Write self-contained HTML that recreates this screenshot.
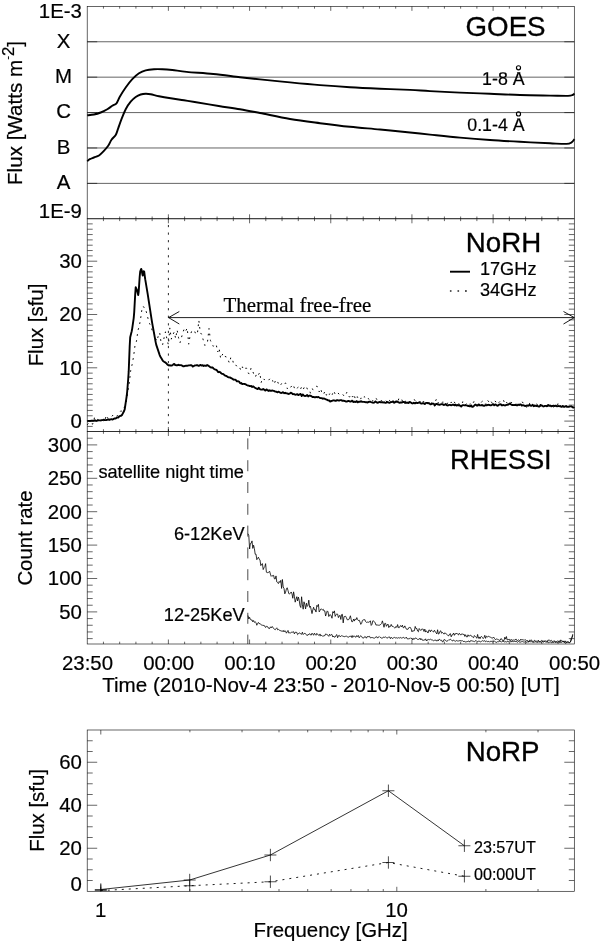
<!DOCTYPE html>
<html><head><meta charset="utf-8"><title>Flare light curves</title>
<style>
html,body{margin:0;padding:0;background:#fff}
svg{display:block}
text{font-family:"Liberation Sans", Arial, Helvetica, sans-serif;fill:#000;stroke:#000;stroke-width:0.2px}
</style></head>
<body>
<svg width="600" height="944" viewBox="0 0 600 944">
<rect x="0" y="0" width="600" height="944" fill="#fff"/>
<line x1="87.20" y1="41.76" x2="574.30" y2="41.76" stroke="#222" stroke-width="0.7"/>
<line x1="87.20" y1="77.17" x2="574.30" y2="77.17" stroke="#222" stroke-width="0.7"/>
<line x1="87.20" y1="112.58" x2="574.30" y2="112.58" stroke="#222" stroke-width="0.7"/>
<line x1="87.20" y1="147.98" x2="574.30" y2="147.98" stroke="#222" stroke-width="0.7"/>
<line x1="87.20" y1="183.39" x2="574.30" y2="183.39" stroke="#222" stroke-width="0.7"/>
<line x1="87.20" y1="41.76" x2="97.20" y2="41.76" stroke="#111" stroke-width="0.64" fill="none"/>
<line x1="564.30" y1="41.76" x2="574.30" y2="41.76" stroke="#111" stroke-width="0.64" fill="none"/>
<line x1="87.20" y1="77.17" x2="97.20" y2="77.17" stroke="#111" stroke-width="0.64" fill="none"/>
<line x1="564.30" y1="77.17" x2="574.30" y2="77.17" stroke="#111" stroke-width="0.64" fill="none"/>
<line x1="87.20" y1="112.58" x2="97.20" y2="112.58" stroke="#111" stroke-width="0.64" fill="none"/>
<line x1="564.30" y1="112.58" x2="574.30" y2="112.58" stroke="#111" stroke-width="0.64" fill="none"/>
<line x1="87.20" y1="147.98" x2="97.20" y2="147.98" stroke="#111" stroke-width="0.64" fill="none"/>
<line x1="564.30" y1="147.98" x2="574.30" y2="147.98" stroke="#111" stroke-width="0.64" fill="none"/>
<line x1="87.20" y1="183.39" x2="97.20" y2="183.39" stroke="#111" stroke-width="0.64" fill="none"/>
<line x1="564.30" y1="183.39" x2="574.30" y2="183.39" stroke="#111" stroke-width="0.64" fill="none"/>
<line x1="103.44" y1="6.35" x2="103.44" y2="8.65" stroke="#111" stroke-width="0.64" fill="none"/>
<line x1="119.67" y1="6.35" x2="119.67" y2="8.65" stroke="#111" stroke-width="0.64" fill="none"/>
<line x1="135.91" y1="6.35" x2="135.91" y2="8.65" stroke="#111" stroke-width="0.64" fill="none"/>
<line x1="152.15" y1="6.35" x2="152.15" y2="8.65" stroke="#111" stroke-width="0.64" fill="none"/>
<line x1="168.38" y1="6.35" x2="168.38" y2="10.85" stroke="#111" stroke-width="0.64" fill="none"/>
<line x1="184.62" y1="6.35" x2="184.62" y2="8.65" stroke="#111" stroke-width="0.64" fill="none"/>
<line x1="200.86" y1="6.35" x2="200.86" y2="8.65" stroke="#111" stroke-width="0.64" fill="none"/>
<line x1="217.09" y1="6.35" x2="217.09" y2="8.65" stroke="#111" stroke-width="0.64" fill="none"/>
<line x1="233.33" y1="6.35" x2="233.33" y2="8.65" stroke="#111" stroke-width="0.64" fill="none"/>
<line x1="249.57" y1="6.35" x2="249.57" y2="10.85" stroke="#111" stroke-width="0.64" fill="none"/>
<line x1="265.80" y1="6.35" x2="265.80" y2="8.65" stroke="#111" stroke-width="0.64" fill="none"/>
<line x1="282.04" y1="6.35" x2="282.04" y2="8.65" stroke="#111" stroke-width="0.64" fill="none"/>
<line x1="298.28" y1="6.35" x2="298.28" y2="8.65" stroke="#111" stroke-width="0.64" fill="none"/>
<line x1="314.51" y1="6.35" x2="314.51" y2="8.65" stroke="#111" stroke-width="0.64" fill="none"/>
<line x1="330.75" y1="6.35" x2="330.75" y2="10.85" stroke="#111" stroke-width="0.64" fill="none"/>
<line x1="346.99" y1="6.35" x2="346.99" y2="8.65" stroke="#111" stroke-width="0.64" fill="none"/>
<line x1="363.22" y1="6.35" x2="363.22" y2="8.65" stroke="#111" stroke-width="0.64" fill="none"/>
<line x1="379.46" y1="6.35" x2="379.46" y2="8.65" stroke="#111" stroke-width="0.64" fill="none"/>
<line x1="395.70" y1="6.35" x2="395.70" y2="8.65" stroke="#111" stroke-width="0.64" fill="none"/>
<line x1="411.93" y1="6.35" x2="411.93" y2="10.85" stroke="#111" stroke-width="0.64" fill="none"/>
<line x1="428.17" y1="6.35" x2="428.17" y2="8.65" stroke="#111" stroke-width="0.64" fill="none"/>
<line x1="444.41" y1="6.35" x2="444.41" y2="8.65" stroke="#111" stroke-width="0.64" fill="none"/>
<line x1="460.64" y1="6.35" x2="460.64" y2="8.65" stroke="#111" stroke-width="0.64" fill="none"/>
<line x1="476.88" y1="6.35" x2="476.88" y2="8.65" stroke="#111" stroke-width="0.64" fill="none"/>
<line x1="493.12" y1="6.35" x2="493.12" y2="10.85" stroke="#111" stroke-width="0.64" fill="none"/>
<line x1="509.35" y1="6.35" x2="509.35" y2="8.65" stroke="#111" stroke-width="0.64" fill="none"/>
<line x1="525.59" y1="6.35" x2="525.59" y2="8.65" stroke="#111" stroke-width="0.64" fill="none"/>
<line x1="541.83" y1="6.35" x2="541.83" y2="8.65" stroke="#111" stroke-width="0.64" fill="none"/>
<line x1="558.06" y1="6.35" x2="558.06" y2="8.65" stroke="#111" stroke-width="0.64" fill="none"/>
<line x1="103.44" y1="216.50" x2="103.44" y2="221.10" stroke="#111" stroke-width="0.64" fill="none"/>
<line x1="119.67" y1="216.50" x2="119.67" y2="221.10" stroke="#111" stroke-width="0.64" fill="none"/>
<line x1="135.91" y1="216.50" x2="135.91" y2="221.10" stroke="#111" stroke-width="0.64" fill="none"/>
<line x1="152.15" y1="216.50" x2="152.15" y2="221.10" stroke="#111" stroke-width="0.64" fill="none"/>
<line x1="168.38" y1="214.30" x2="168.38" y2="223.30" stroke="#111" stroke-width="0.64" fill="none"/>
<line x1="184.62" y1="216.50" x2="184.62" y2="221.10" stroke="#111" stroke-width="0.64" fill="none"/>
<line x1="200.86" y1="216.50" x2="200.86" y2="221.10" stroke="#111" stroke-width="0.64" fill="none"/>
<line x1="217.09" y1="216.50" x2="217.09" y2="221.10" stroke="#111" stroke-width="0.64" fill="none"/>
<line x1="233.33" y1="216.50" x2="233.33" y2="221.10" stroke="#111" stroke-width="0.64" fill="none"/>
<line x1="249.57" y1="214.30" x2="249.57" y2="223.30" stroke="#111" stroke-width="0.64" fill="none"/>
<line x1="265.80" y1="216.50" x2="265.80" y2="221.10" stroke="#111" stroke-width="0.64" fill="none"/>
<line x1="282.04" y1="216.50" x2="282.04" y2="221.10" stroke="#111" stroke-width="0.64" fill="none"/>
<line x1="298.28" y1="216.50" x2="298.28" y2="221.10" stroke="#111" stroke-width="0.64" fill="none"/>
<line x1="314.51" y1="216.50" x2="314.51" y2="221.10" stroke="#111" stroke-width="0.64" fill="none"/>
<line x1="330.75" y1="214.30" x2="330.75" y2="223.30" stroke="#111" stroke-width="0.64" fill="none"/>
<line x1="346.99" y1="216.50" x2="346.99" y2="221.10" stroke="#111" stroke-width="0.64" fill="none"/>
<line x1="363.22" y1="216.50" x2="363.22" y2="221.10" stroke="#111" stroke-width="0.64" fill="none"/>
<line x1="379.46" y1="216.50" x2="379.46" y2="221.10" stroke="#111" stroke-width="0.64" fill="none"/>
<line x1="395.70" y1="216.50" x2="395.70" y2="221.10" stroke="#111" stroke-width="0.64" fill="none"/>
<line x1="411.93" y1="214.30" x2="411.93" y2="223.30" stroke="#111" stroke-width="0.64" fill="none"/>
<line x1="428.17" y1="216.50" x2="428.17" y2="221.10" stroke="#111" stroke-width="0.64" fill="none"/>
<line x1="444.41" y1="216.50" x2="444.41" y2="221.10" stroke="#111" stroke-width="0.64" fill="none"/>
<line x1="460.64" y1="216.50" x2="460.64" y2="221.10" stroke="#111" stroke-width="0.64" fill="none"/>
<line x1="476.88" y1="216.50" x2="476.88" y2="221.10" stroke="#111" stroke-width="0.64" fill="none"/>
<line x1="493.12" y1="214.30" x2="493.12" y2="223.30" stroke="#111" stroke-width="0.64" fill="none"/>
<line x1="509.35" y1="216.50" x2="509.35" y2="221.10" stroke="#111" stroke-width="0.64" fill="none"/>
<line x1="525.59" y1="216.50" x2="525.59" y2="221.10" stroke="#111" stroke-width="0.64" fill="none"/>
<line x1="541.83" y1="216.50" x2="541.83" y2="221.10" stroke="#111" stroke-width="0.64" fill="none"/>
<line x1="558.06" y1="216.50" x2="558.06" y2="221.10" stroke="#111" stroke-width="0.64" fill="none"/>
<line x1="103.44" y1="429.20" x2="103.44" y2="433.80" stroke="#111" stroke-width="0.64" fill="none"/>
<line x1="119.67" y1="429.20" x2="119.67" y2="433.80" stroke="#111" stroke-width="0.64" fill="none"/>
<line x1="135.91" y1="429.20" x2="135.91" y2="433.80" stroke="#111" stroke-width="0.64" fill="none"/>
<line x1="152.15" y1="429.20" x2="152.15" y2="433.80" stroke="#111" stroke-width="0.64" fill="none"/>
<line x1="168.38" y1="427.00" x2="168.38" y2="436.00" stroke="#111" stroke-width="0.64" fill="none"/>
<line x1="184.62" y1="429.20" x2="184.62" y2="433.80" stroke="#111" stroke-width="0.64" fill="none"/>
<line x1="200.86" y1="429.20" x2="200.86" y2="433.80" stroke="#111" stroke-width="0.64" fill="none"/>
<line x1="217.09" y1="429.20" x2="217.09" y2="433.80" stroke="#111" stroke-width="0.64" fill="none"/>
<line x1="233.33" y1="429.20" x2="233.33" y2="433.80" stroke="#111" stroke-width="0.64" fill="none"/>
<line x1="249.57" y1="427.00" x2="249.57" y2="436.00" stroke="#111" stroke-width="0.64" fill="none"/>
<line x1="265.80" y1="429.20" x2="265.80" y2="433.80" stroke="#111" stroke-width="0.64" fill="none"/>
<line x1="282.04" y1="429.20" x2="282.04" y2="433.80" stroke="#111" stroke-width="0.64" fill="none"/>
<line x1="298.28" y1="429.20" x2="298.28" y2="433.80" stroke="#111" stroke-width="0.64" fill="none"/>
<line x1="314.51" y1="429.20" x2="314.51" y2="433.80" stroke="#111" stroke-width="0.64" fill="none"/>
<line x1="330.75" y1="427.00" x2="330.75" y2="436.00" stroke="#111" stroke-width="0.64" fill="none"/>
<line x1="346.99" y1="429.20" x2="346.99" y2="433.80" stroke="#111" stroke-width="0.64" fill="none"/>
<line x1="363.22" y1="429.20" x2="363.22" y2="433.80" stroke="#111" stroke-width="0.64" fill="none"/>
<line x1="379.46" y1="429.20" x2="379.46" y2="433.80" stroke="#111" stroke-width="0.64" fill="none"/>
<line x1="395.70" y1="429.20" x2="395.70" y2="433.80" stroke="#111" stroke-width="0.64" fill="none"/>
<line x1="411.93" y1="427.00" x2="411.93" y2="436.00" stroke="#111" stroke-width="0.64" fill="none"/>
<line x1="428.17" y1="429.20" x2="428.17" y2="433.80" stroke="#111" stroke-width="0.64" fill="none"/>
<line x1="444.41" y1="429.20" x2="444.41" y2="433.80" stroke="#111" stroke-width="0.64" fill="none"/>
<line x1="460.64" y1="429.20" x2="460.64" y2="433.80" stroke="#111" stroke-width="0.64" fill="none"/>
<line x1="476.88" y1="429.20" x2="476.88" y2="433.80" stroke="#111" stroke-width="0.64" fill="none"/>
<line x1="493.12" y1="427.00" x2="493.12" y2="436.00" stroke="#111" stroke-width="0.64" fill="none"/>
<line x1="509.35" y1="429.20" x2="509.35" y2="433.80" stroke="#111" stroke-width="0.64" fill="none"/>
<line x1="525.59" y1="429.20" x2="525.59" y2="433.80" stroke="#111" stroke-width="0.64" fill="none"/>
<line x1="541.83" y1="429.20" x2="541.83" y2="433.80" stroke="#111" stroke-width="0.64" fill="none"/>
<line x1="558.06" y1="429.20" x2="558.06" y2="433.80" stroke="#111" stroke-width="0.64" fill="none"/>
<line x1="103.44" y1="641.70" x2="103.44" y2="644.00" stroke="#111" stroke-width="0.64" fill="none"/>
<line x1="119.67" y1="641.70" x2="119.67" y2="644.00" stroke="#111" stroke-width="0.64" fill="none"/>
<line x1="135.91" y1="641.70" x2="135.91" y2="644.00" stroke="#111" stroke-width="0.64" fill="none"/>
<line x1="152.15" y1="641.70" x2="152.15" y2="644.00" stroke="#111" stroke-width="0.64" fill="none"/>
<line x1="168.38" y1="639.50" x2="168.38" y2="644.00" stroke="#111" stroke-width="0.64" fill="none"/>
<line x1="184.62" y1="641.70" x2="184.62" y2="644.00" stroke="#111" stroke-width="0.64" fill="none"/>
<line x1="200.86" y1="641.70" x2="200.86" y2="644.00" stroke="#111" stroke-width="0.64" fill="none"/>
<line x1="217.09" y1="641.70" x2="217.09" y2="644.00" stroke="#111" stroke-width="0.64" fill="none"/>
<line x1="233.33" y1="641.70" x2="233.33" y2="644.00" stroke="#111" stroke-width="0.64" fill="none"/>
<line x1="249.57" y1="639.50" x2="249.57" y2="644.00" stroke="#111" stroke-width="0.64" fill="none"/>
<line x1="265.80" y1="641.70" x2="265.80" y2="644.00" stroke="#111" stroke-width="0.64" fill="none"/>
<line x1="282.04" y1="641.70" x2="282.04" y2="644.00" stroke="#111" stroke-width="0.64" fill="none"/>
<line x1="298.28" y1="641.70" x2="298.28" y2="644.00" stroke="#111" stroke-width="0.64" fill="none"/>
<line x1="314.51" y1="641.70" x2="314.51" y2="644.00" stroke="#111" stroke-width="0.64" fill="none"/>
<line x1="330.75" y1="639.50" x2="330.75" y2="644.00" stroke="#111" stroke-width="0.64" fill="none"/>
<line x1="346.99" y1="641.70" x2="346.99" y2="644.00" stroke="#111" stroke-width="0.64" fill="none"/>
<line x1="363.22" y1="641.70" x2="363.22" y2="644.00" stroke="#111" stroke-width="0.64" fill="none"/>
<line x1="379.46" y1="641.70" x2="379.46" y2="644.00" stroke="#111" stroke-width="0.64" fill="none"/>
<line x1="395.70" y1="641.70" x2="395.70" y2="644.00" stroke="#111" stroke-width="0.64" fill="none"/>
<line x1="411.93" y1="639.50" x2="411.93" y2="644.00" stroke="#111" stroke-width="0.64" fill="none"/>
<line x1="428.17" y1="641.70" x2="428.17" y2="644.00" stroke="#111" stroke-width="0.64" fill="none"/>
<line x1="444.41" y1="641.70" x2="444.41" y2="644.00" stroke="#111" stroke-width="0.64" fill="none"/>
<line x1="460.64" y1="641.70" x2="460.64" y2="644.00" stroke="#111" stroke-width="0.64" fill="none"/>
<line x1="476.88" y1="641.70" x2="476.88" y2="644.00" stroke="#111" stroke-width="0.64" fill="none"/>
<line x1="493.12" y1="639.50" x2="493.12" y2="644.00" stroke="#111" stroke-width="0.64" fill="none"/>
<line x1="509.35" y1="641.70" x2="509.35" y2="644.00" stroke="#111" stroke-width="0.64" fill="none"/>
<line x1="525.59" y1="641.70" x2="525.59" y2="644.00" stroke="#111" stroke-width="0.64" fill="none"/>
<line x1="541.83" y1="641.70" x2="541.83" y2="644.00" stroke="#111" stroke-width="0.64" fill="none"/>
<line x1="558.06" y1="641.70" x2="558.06" y2="644.00" stroke="#111" stroke-width="0.64" fill="none"/>
<path d="M87.20 115.30 C88.33 115.17 91.75 114.97 94.00 114.50 C96.25 114.03 98.48 113.38 100.70 112.50 C102.92 111.62 105.37 110.32 107.30 109.20 C109.23 108.08 110.77 106.78 112.30 105.80 C113.83 104.82 115.25 104.82 116.50 103.30 C117.75 101.78 118.27 99.33 119.80 96.70 C121.33 94.07 123.62 90.42 125.70 87.50 C127.78 84.58 130.08 81.57 132.30 79.20 C134.52 76.83 136.77 74.78 139.00 73.30 C141.23 71.82 143.20 70.98 145.70 70.30 C148.20 69.62 151.23 69.38 154.00 69.20 C156.77 69.02 159.25 69.07 162.30 69.20 C165.35 69.33 168.23 69.55 172.30 70.00 C176.37 70.45 179.87 71.23 186.70 71.90 C193.53 72.57 204.42 73.12 213.30 74.00 C222.18 74.88 232.22 76.30 240.00 77.20 C247.78 78.10 251.67 78.53 260.00 79.40 C268.33 80.27 280.00 81.45 290.00 82.40 C300.00 83.35 310.00 84.30 320.00 85.10 C330.00 85.90 340.00 86.60 350.00 87.20 C360.00 87.80 370.00 88.25 380.00 88.70 C390.00 89.15 401.67 89.50 410.00 89.90 C418.33 90.30 421.67 90.65 430.00 91.10 C438.33 91.55 450.00 92.15 460.00 92.60 C470.00 93.05 480.00 93.40 490.00 93.80 C500.00 94.20 510.00 94.70 520.00 95.00 C530.00 95.30 542.00 95.45 550.00 95.60 C558.00 95.75 564.25 96.00 568.00 95.90 C571.75 95.80 571.42 95.40 572.50 95.00 C573.58 94.60 574.17 93.75 574.50 93.50" stroke="#000" stroke-width="1.9" fill="none" stroke-linejoin="round"/>
<path d="M87.20 161.30 C87.63 160.95 88.67 159.83 89.80 159.20 C90.93 158.57 92.47 158.12 94.00 157.50 C95.53 156.88 97.47 156.47 99.00 155.50 C100.53 154.53 101.67 153.32 103.20 151.70 C104.73 150.08 106.82 147.80 108.20 145.80 C109.58 143.80 110.25 141.50 111.50 139.70 C112.75 137.90 114.58 136.90 115.70 135.00 C116.82 133.10 117.23 130.93 118.20 128.30 C119.17 125.67 120.25 122.38 121.50 119.20 C122.75 116.02 124.17 112.12 125.70 109.20 C127.23 106.28 129.03 103.73 130.70 101.70 C132.37 99.67 134.03 98.20 135.70 97.00 C137.37 95.80 139.03 95.05 140.70 94.50 C142.37 93.95 144.03 93.75 145.70 93.70 C147.37 93.65 148.48 93.78 150.70 94.20 C152.92 94.62 155.67 95.52 159.00 96.20 C162.33 96.88 166.53 97.62 170.70 98.30 C174.87 98.98 180.00 99.68 184.00 100.30 C188.00 100.92 188.92 101.05 194.70 102.00 C200.48 102.95 211.15 104.80 218.70 106.00 C226.25 107.20 233.12 108.03 240.00 109.20 C246.88 110.37 251.67 111.37 260.00 113.00 C268.33 114.63 280.00 117.30 290.00 119.00 C300.00 120.70 310.00 121.90 320.00 123.20 C330.00 124.50 340.00 125.75 350.00 126.80 C360.00 127.85 370.00 128.55 380.00 129.50 C390.00 130.45 401.67 131.65 410.00 132.50 C418.33 133.35 421.67 133.75 430.00 134.60 C438.33 135.45 450.00 136.70 460.00 137.60 C470.00 138.50 480.00 139.30 490.00 140.00 C500.00 140.70 510.00 141.25 520.00 141.80 C530.00 142.35 542.25 142.95 550.00 143.30 C557.75 143.65 562.90 144.05 566.50 143.90 C570.10 143.75 570.27 143.20 571.60 142.40 C572.93 141.60 574.02 139.65 574.50 139.10" stroke="#000" stroke-width="1.9" fill="none" stroke-linejoin="round"/>
<line x1="87.20" y1="426.43" x2="92.70" y2="426.43" stroke="#111" stroke-width="0.64" fill="none"/>
<line x1="568.80" y1="426.43" x2="574.30" y2="426.43" stroke="#111" stroke-width="0.64" fill="none"/>
<line x1="87.20" y1="421.10" x2="97.20" y2="421.10" stroke="#111" stroke-width="0.64" fill="none"/>
<line x1="564.30" y1="421.10" x2="574.30" y2="421.10" stroke="#111" stroke-width="0.64" fill="none"/>
<line x1="87.20" y1="415.77" x2="92.70" y2="415.77" stroke="#111" stroke-width="0.64" fill="none"/>
<line x1="568.80" y1="415.77" x2="574.30" y2="415.77" stroke="#111" stroke-width="0.64" fill="none"/>
<line x1="87.20" y1="410.44" x2="92.70" y2="410.44" stroke="#111" stroke-width="0.64" fill="none"/>
<line x1="568.80" y1="410.44" x2="574.30" y2="410.44" stroke="#111" stroke-width="0.64" fill="none"/>
<line x1="87.20" y1="405.11" x2="92.70" y2="405.11" stroke="#111" stroke-width="0.64" fill="none"/>
<line x1="568.80" y1="405.11" x2="574.30" y2="405.11" stroke="#111" stroke-width="0.64" fill="none"/>
<line x1="87.20" y1="399.78" x2="92.70" y2="399.78" stroke="#111" stroke-width="0.64" fill="none"/>
<line x1="568.80" y1="399.78" x2="574.30" y2="399.78" stroke="#111" stroke-width="0.64" fill="none"/>
<line x1="87.20" y1="394.45" x2="92.70" y2="394.45" stroke="#111" stroke-width="0.64" fill="none"/>
<line x1="568.80" y1="394.45" x2="574.30" y2="394.45" stroke="#111" stroke-width="0.64" fill="none"/>
<line x1="87.20" y1="389.12" x2="92.70" y2="389.12" stroke="#111" stroke-width="0.64" fill="none"/>
<line x1="568.80" y1="389.12" x2="574.30" y2="389.12" stroke="#111" stroke-width="0.64" fill="none"/>
<line x1="87.20" y1="383.79" x2="92.70" y2="383.79" stroke="#111" stroke-width="0.64" fill="none"/>
<line x1="568.80" y1="383.79" x2="574.30" y2="383.79" stroke="#111" stroke-width="0.64" fill="none"/>
<line x1="87.20" y1="378.46" x2="92.70" y2="378.46" stroke="#111" stroke-width="0.64" fill="none"/>
<line x1="568.80" y1="378.46" x2="574.30" y2="378.46" stroke="#111" stroke-width="0.64" fill="none"/>
<line x1="87.20" y1="373.13" x2="92.70" y2="373.13" stroke="#111" stroke-width="0.64" fill="none"/>
<line x1="568.80" y1="373.13" x2="574.30" y2="373.13" stroke="#111" stroke-width="0.64" fill="none"/>
<line x1="87.20" y1="367.80" x2="97.20" y2="367.80" stroke="#111" stroke-width="0.64" fill="none"/>
<line x1="564.30" y1="367.80" x2="574.30" y2="367.80" stroke="#111" stroke-width="0.64" fill="none"/>
<line x1="87.20" y1="362.47" x2="92.70" y2="362.47" stroke="#111" stroke-width="0.64" fill="none"/>
<line x1="568.80" y1="362.47" x2="574.30" y2="362.47" stroke="#111" stroke-width="0.64" fill="none"/>
<line x1="87.20" y1="357.14" x2="92.70" y2="357.14" stroke="#111" stroke-width="0.64" fill="none"/>
<line x1="568.80" y1="357.14" x2="574.30" y2="357.14" stroke="#111" stroke-width="0.64" fill="none"/>
<line x1="87.20" y1="351.81" x2="92.70" y2="351.81" stroke="#111" stroke-width="0.64" fill="none"/>
<line x1="568.80" y1="351.81" x2="574.30" y2="351.81" stroke="#111" stroke-width="0.64" fill="none"/>
<line x1="87.20" y1="346.48" x2="92.70" y2="346.48" stroke="#111" stroke-width="0.64" fill="none"/>
<line x1="568.80" y1="346.48" x2="574.30" y2="346.48" stroke="#111" stroke-width="0.64" fill="none"/>
<line x1="87.20" y1="341.15" x2="92.70" y2="341.15" stroke="#111" stroke-width="0.64" fill="none"/>
<line x1="568.80" y1="341.15" x2="574.30" y2="341.15" stroke="#111" stroke-width="0.64" fill="none"/>
<line x1="87.20" y1="335.82" x2="92.70" y2="335.82" stroke="#111" stroke-width="0.64" fill="none"/>
<line x1="568.80" y1="335.82" x2="574.30" y2="335.82" stroke="#111" stroke-width="0.64" fill="none"/>
<line x1="87.20" y1="330.49" x2="92.70" y2="330.49" stroke="#111" stroke-width="0.64" fill="none"/>
<line x1="568.80" y1="330.49" x2="574.30" y2="330.49" stroke="#111" stroke-width="0.64" fill="none"/>
<line x1="87.20" y1="325.16" x2="92.70" y2="325.16" stroke="#111" stroke-width="0.64" fill="none"/>
<line x1="568.80" y1="325.16" x2="574.30" y2="325.16" stroke="#111" stroke-width="0.64" fill="none"/>
<line x1="87.20" y1="319.83" x2="92.70" y2="319.83" stroke="#111" stroke-width="0.64" fill="none"/>
<line x1="568.80" y1="319.83" x2="574.30" y2="319.83" stroke="#111" stroke-width="0.64" fill="none"/>
<line x1="87.20" y1="314.50" x2="97.20" y2="314.50" stroke="#111" stroke-width="0.64" fill="none"/>
<line x1="564.30" y1="314.50" x2="574.30" y2="314.50" stroke="#111" stroke-width="0.64" fill="none"/>
<line x1="87.20" y1="309.17" x2="92.70" y2="309.17" stroke="#111" stroke-width="0.64" fill="none"/>
<line x1="568.80" y1="309.17" x2="574.30" y2="309.17" stroke="#111" stroke-width="0.64" fill="none"/>
<line x1="87.20" y1="303.84" x2="92.70" y2="303.84" stroke="#111" stroke-width="0.64" fill="none"/>
<line x1="568.80" y1="303.84" x2="574.30" y2="303.84" stroke="#111" stroke-width="0.64" fill="none"/>
<line x1="87.20" y1="298.51" x2="92.70" y2="298.51" stroke="#111" stroke-width="0.64" fill="none"/>
<line x1="568.80" y1="298.51" x2="574.30" y2="298.51" stroke="#111" stroke-width="0.64" fill="none"/>
<line x1="87.20" y1="293.18" x2="92.70" y2="293.18" stroke="#111" stroke-width="0.64" fill="none"/>
<line x1="568.80" y1="293.18" x2="574.30" y2="293.18" stroke="#111" stroke-width="0.64" fill="none"/>
<line x1="87.20" y1="287.85" x2="92.70" y2="287.85" stroke="#111" stroke-width="0.64" fill="none"/>
<line x1="568.80" y1="287.85" x2="574.30" y2="287.85" stroke="#111" stroke-width="0.64" fill="none"/>
<line x1="87.20" y1="282.52" x2="92.70" y2="282.52" stroke="#111" stroke-width="0.64" fill="none"/>
<line x1="568.80" y1="282.52" x2="574.30" y2="282.52" stroke="#111" stroke-width="0.64" fill="none"/>
<line x1="87.20" y1="277.19" x2="92.70" y2="277.19" stroke="#111" stroke-width="0.64" fill="none"/>
<line x1="568.80" y1="277.19" x2="574.30" y2="277.19" stroke="#111" stroke-width="0.64" fill="none"/>
<line x1="87.20" y1="271.86" x2="92.70" y2="271.86" stroke="#111" stroke-width="0.64" fill="none"/>
<line x1="568.80" y1="271.86" x2="574.30" y2="271.86" stroke="#111" stroke-width="0.64" fill="none"/>
<line x1="87.20" y1="266.53" x2="92.70" y2="266.53" stroke="#111" stroke-width="0.64" fill="none"/>
<line x1="568.80" y1="266.53" x2="574.30" y2="266.53" stroke="#111" stroke-width="0.64" fill="none"/>
<line x1="87.20" y1="261.20" x2="97.20" y2="261.20" stroke="#111" stroke-width="0.64" fill="none"/>
<line x1="564.30" y1="261.20" x2="574.30" y2="261.20" stroke="#111" stroke-width="0.64" fill="none"/>
<line x1="87.20" y1="255.87" x2="92.70" y2="255.87" stroke="#111" stroke-width="0.64" fill="none"/>
<line x1="568.80" y1="255.87" x2="574.30" y2="255.87" stroke="#111" stroke-width="0.64" fill="none"/>
<line x1="87.20" y1="250.54" x2="92.70" y2="250.54" stroke="#111" stroke-width="0.64" fill="none"/>
<line x1="568.80" y1="250.54" x2="574.30" y2="250.54" stroke="#111" stroke-width="0.64" fill="none"/>
<line x1="87.20" y1="245.21" x2="92.70" y2="245.21" stroke="#111" stroke-width="0.64" fill="none"/>
<line x1="568.80" y1="245.21" x2="574.30" y2="245.21" stroke="#111" stroke-width="0.64" fill="none"/>
<line x1="87.20" y1="239.88" x2="92.70" y2="239.88" stroke="#111" stroke-width="0.64" fill="none"/>
<line x1="568.80" y1="239.88" x2="574.30" y2="239.88" stroke="#111" stroke-width="0.64" fill="none"/>
<line x1="87.20" y1="234.55" x2="92.70" y2="234.55" stroke="#111" stroke-width="0.64" fill="none"/>
<line x1="568.80" y1="234.55" x2="574.30" y2="234.55" stroke="#111" stroke-width="0.64" fill="none"/>
<line x1="87.20" y1="229.22" x2="92.70" y2="229.22" stroke="#111" stroke-width="0.64" fill="none"/>
<line x1="568.80" y1="229.22" x2="574.30" y2="229.22" stroke="#111" stroke-width="0.64" fill="none"/>
<line x1="87.20" y1="223.89" x2="92.70" y2="223.89" stroke="#111" stroke-width="0.64" fill="none"/>
<line x1="568.80" y1="223.89" x2="574.30" y2="223.89" stroke="#111" stroke-width="0.64" fill="none"/>
<line x1="87.20" y1="638.62" x2="92.70" y2="638.62" stroke="#111" stroke-width="0.64" fill="none"/>
<line x1="568.80" y1="638.62" x2="574.30" y2="638.62" stroke="#111" stroke-width="0.64" fill="none"/>
<line x1="87.20" y1="631.94" x2="92.70" y2="631.94" stroke="#111" stroke-width="0.64" fill="none"/>
<line x1="568.80" y1="631.94" x2="574.30" y2="631.94" stroke="#111" stroke-width="0.64" fill="none"/>
<line x1="87.20" y1="625.26" x2="92.70" y2="625.26" stroke="#111" stroke-width="0.64" fill="none"/>
<line x1="568.80" y1="625.26" x2="574.30" y2="625.26" stroke="#111" stroke-width="0.64" fill="none"/>
<line x1="87.20" y1="618.58" x2="92.70" y2="618.58" stroke="#111" stroke-width="0.64" fill="none"/>
<line x1="568.80" y1="618.58" x2="574.30" y2="618.58" stroke="#111" stroke-width="0.64" fill="none"/>
<line x1="87.20" y1="611.90" x2="97.20" y2="611.90" stroke="#111" stroke-width="0.64" fill="none"/>
<line x1="564.30" y1="611.90" x2="574.30" y2="611.90" stroke="#111" stroke-width="0.64" fill="none"/>
<line x1="87.20" y1="605.22" x2="92.70" y2="605.22" stroke="#111" stroke-width="0.64" fill="none"/>
<line x1="568.80" y1="605.22" x2="574.30" y2="605.22" stroke="#111" stroke-width="0.64" fill="none"/>
<line x1="87.20" y1="598.54" x2="92.70" y2="598.54" stroke="#111" stroke-width="0.64" fill="none"/>
<line x1="568.80" y1="598.54" x2="574.30" y2="598.54" stroke="#111" stroke-width="0.64" fill="none"/>
<line x1="87.20" y1="591.86" x2="92.70" y2="591.86" stroke="#111" stroke-width="0.64" fill="none"/>
<line x1="568.80" y1="591.86" x2="574.30" y2="591.86" stroke="#111" stroke-width="0.64" fill="none"/>
<line x1="87.20" y1="585.18" x2="92.70" y2="585.18" stroke="#111" stroke-width="0.64" fill="none"/>
<line x1="568.80" y1="585.18" x2="574.30" y2="585.18" stroke="#111" stroke-width="0.64" fill="none"/>
<line x1="87.20" y1="578.50" x2="97.20" y2="578.50" stroke="#111" stroke-width="0.64" fill="none"/>
<line x1="564.30" y1="578.50" x2="574.30" y2="578.50" stroke="#111" stroke-width="0.64" fill="none"/>
<line x1="87.20" y1="571.82" x2="92.70" y2="571.82" stroke="#111" stroke-width="0.64" fill="none"/>
<line x1="568.80" y1="571.82" x2="574.30" y2="571.82" stroke="#111" stroke-width="0.64" fill="none"/>
<line x1="87.20" y1="565.14" x2="92.70" y2="565.14" stroke="#111" stroke-width="0.64" fill="none"/>
<line x1="568.80" y1="565.14" x2="574.30" y2="565.14" stroke="#111" stroke-width="0.64" fill="none"/>
<line x1="87.20" y1="558.46" x2="92.70" y2="558.46" stroke="#111" stroke-width="0.64" fill="none"/>
<line x1="568.80" y1="558.46" x2="574.30" y2="558.46" stroke="#111" stroke-width="0.64" fill="none"/>
<line x1="87.20" y1="551.78" x2="92.70" y2="551.78" stroke="#111" stroke-width="0.64" fill="none"/>
<line x1="568.80" y1="551.78" x2="574.30" y2="551.78" stroke="#111" stroke-width="0.64" fill="none"/>
<line x1="87.20" y1="545.10" x2="97.20" y2="545.10" stroke="#111" stroke-width="0.64" fill="none"/>
<line x1="564.30" y1="545.10" x2="574.30" y2="545.10" stroke="#111" stroke-width="0.64" fill="none"/>
<line x1="87.20" y1="538.42" x2="92.70" y2="538.42" stroke="#111" stroke-width="0.64" fill="none"/>
<line x1="568.80" y1="538.42" x2="574.30" y2="538.42" stroke="#111" stroke-width="0.64" fill="none"/>
<line x1="87.20" y1="531.74" x2="92.70" y2="531.74" stroke="#111" stroke-width="0.64" fill="none"/>
<line x1="568.80" y1="531.74" x2="574.30" y2="531.74" stroke="#111" stroke-width="0.64" fill="none"/>
<line x1="87.20" y1="525.06" x2="92.70" y2="525.06" stroke="#111" stroke-width="0.64" fill="none"/>
<line x1="568.80" y1="525.06" x2="574.30" y2="525.06" stroke="#111" stroke-width="0.64" fill="none"/>
<line x1="87.20" y1="518.38" x2="92.70" y2="518.38" stroke="#111" stroke-width="0.64" fill="none"/>
<line x1="568.80" y1="518.38" x2="574.30" y2="518.38" stroke="#111" stroke-width="0.64" fill="none"/>
<line x1="87.20" y1="511.70" x2="97.20" y2="511.70" stroke="#111" stroke-width="0.64" fill="none"/>
<line x1="564.30" y1="511.70" x2="574.30" y2="511.70" stroke="#111" stroke-width="0.64" fill="none"/>
<line x1="87.20" y1="505.02" x2="92.70" y2="505.02" stroke="#111" stroke-width="0.64" fill="none"/>
<line x1="568.80" y1="505.02" x2="574.30" y2="505.02" stroke="#111" stroke-width="0.64" fill="none"/>
<line x1="87.20" y1="498.34" x2="92.70" y2="498.34" stroke="#111" stroke-width="0.64" fill="none"/>
<line x1="568.80" y1="498.34" x2="574.30" y2="498.34" stroke="#111" stroke-width="0.64" fill="none"/>
<line x1="87.20" y1="491.66" x2="92.70" y2="491.66" stroke="#111" stroke-width="0.64" fill="none"/>
<line x1="568.80" y1="491.66" x2="574.30" y2="491.66" stroke="#111" stroke-width="0.64" fill="none"/>
<line x1="87.20" y1="484.98" x2="92.70" y2="484.98" stroke="#111" stroke-width="0.64" fill="none"/>
<line x1="568.80" y1="484.98" x2="574.30" y2="484.98" stroke="#111" stroke-width="0.64" fill="none"/>
<line x1="87.20" y1="478.30" x2="97.20" y2="478.30" stroke="#111" stroke-width="0.64" fill="none"/>
<line x1="564.30" y1="478.30" x2="574.30" y2="478.30" stroke="#111" stroke-width="0.64" fill="none"/>
<line x1="87.20" y1="471.62" x2="92.70" y2="471.62" stroke="#111" stroke-width="0.64" fill="none"/>
<line x1="568.80" y1="471.62" x2="574.30" y2="471.62" stroke="#111" stroke-width="0.64" fill="none"/>
<line x1="87.20" y1="464.94" x2="92.70" y2="464.94" stroke="#111" stroke-width="0.64" fill="none"/>
<line x1="568.80" y1="464.94" x2="574.30" y2="464.94" stroke="#111" stroke-width="0.64" fill="none"/>
<line x1="87.20" y1="458.26" x2="92.70" y2="458.26" stroke="#111" stroke-width="0.64" fill="none"/>
<line x1="568.80" y1="458.26" x2="574.30" y2="458.26" stroke="#111" stroke-width="0.64" fill="none"/>
<line x1="87.20" y1="451.58" x2="92.70" y2="451.58" stroke="#111" stroke-width="0.64" fill="none"/>
<line x1="568.80" y1="451.58" x2="574.30" y2="451.58" stroke="#111" stroke-width="0.64" fill="none"/>
<line x1="87.20" y1="444.90" x2="97.20" y2="444.90" stroke="#111" stroke-width="0.64" fill="none"/>
<line x1="564.30" y1="444.90" x2="574.30" y2="444.90" stroke="#111" stroke-width="0.64" fill="none"/>
<line x1="87.20" y1="438.22" x2="92.70" y2="438.22" stroke="#111" stroke-width="0.64" fill="none"/>
<line x1="568.80" y1="438.22" x2="574.30" y2="438.22" stroke="#111" stroke-width="0.64" fill="none"/>
<line x1="87.20" y1="880.50" x2="92.70" y2="880.50" stroke="#111" stroke-width="0.64" fill="none"/>
<line x1="568.80" y1="880.50" x2="574.30" y2="880.50" stroke="#111" stroke-width="0.64" fill="none"/>
<line x1="87.20" y1="869.75" x2="92.70" y2="869.75" stroke="#111" stroke-width="0.64" fill="none"/>
<line x1="568.80" y1="869.75" x2="574.30" y2="869.75" stroke="#111" stroke-width="0.64" fill="none"/>
<line x1="87.20" y1="859.00" x2="92.70" y2="859.00" stroke="#111" stroke-width="0.64" fill="none"/>
<line x1="568.80" y1="859.00" x2="574.30" y2="859.00" stroke="#111" stroke-width="0.64" fill="none"/>
<line x1="87.20" y1="848.25" x2="97.20" y2="848.25" stroke="#111" stroke-width="0.64" fill="none"/>
<line x1="564.30" y1="848.25" x2="574.30" y2="848.25" stroke="#111" stroke-width="0.64" fill="none"/>
<line x1="87.20" y1="837.50" x2="92.70" y2="837.50" stroke="#111" stroke-width="0.64" fill="none"/>
<line x1="568.80" y1="837.50" x2="574.30" y2="837.50" stroke="#111" stroke-width="0.64" fill="none"/>
<line x1="87.20" y1="826.75" x2="92.70" y2="826.75" stroke="#111" stroke-width="0.64" fill="none"/>
<line x1="568.80" y1="826.75" x2="574.30" y2="826.75" stroke="#111" stroke-width="0.64" fill="none"/>
<line x1="87.20" y1="816.00" x2="92.70" y2="816.00" stroke="#111" stroke-width="0.64" fill="none"/>
<line x1="568.80" y1="816.00" x2="574.30" y2="816.00" stroke="#111" stroke-width="0.64" fill="none"/>
<line x1="87.20" y1="805.25" x2="97.20" y2="805.25" stroke="#111" stroke-width="0.64" fill="none"/>
<line x1="564.30" y1="805.25" x2="574.30" y2="805.25" stroke="#111" stroke-width="0.64" fill="none"/>
<line x1="87.20" y1="794.50" x2="92.70" y2="794.50" stroke="#111" stroke-width="0.64" fill="none"/>
<line x1="568.80" y1="794.50" x2="574.30" y2="794.50" stroke="#111" stroke-width="0.64" fill="none"/>
<line x1="87.20" y1="783.75" x2="92.70" y2="783.75" stroke="#111" stroke-width="0.64" fill="none"/>
<line x1="568.80" y1="783.75" x2="574.30" y2="783.75" stroke="#111" stroke-width="0.64" fill="none"/>
<line x1="87.20" y1="773.00" x2="92.70" y2="773.00" stroke="#111" stroke-width="0.64" fill="none"/>
<line x1="568.80" y1="773.00" x2="574.30" y2="773.00" stroke="#111" stroke-width="0.64" fill="none"/>
<line x1="87.20" y1="762.25" x2="97.20" y2="762.25" stroke="#111" stroke-width="0.64" fill="none"/>
<line x1="564.30" y1="762.25" x2="574.30" y2="762.25" stroke="#111" stroke-width="0.64" fill="none"/>
<line x1="87.20" y1="751.50" x2="92.70" y2="751.50" stroke="#111" stroke-width="0.64" fill="none"/>
<line x1="568.80" y1="751.50" x2="574.30" y2="751.50" stroke="#111" stroke-width="0.64" fill="none"/>
<line x1="87.20" y1="740.75" x2="92.70" y2="740.75" stroke="#111" stroke-width="0.64" fill="none"/>
<line x1="568.80" y1="740.75" x2="574.30" y2="740.75" stroke="#111" stroke-width="0.64" fill="none"/>
<line x1="168.40" y1="217.40" x2="168.40" y2="431.50" stroke="#111" stroke-width="0.9" stroke-dasharray="2.2 5.36" fill="none"/>
<path d="M87.20 421.42 L87.70 421.17 L88.20 420.90 L88.70 420.87 L89.20 420.91 L89.70 420.93 L90.20 420.95 L90.70 420.90 L91.20 420.74 L91.70 420.62 L92.20 420.69 L92.70 420.76 L93.20 420.73 L93.70 420.71 L94.20 420.53 L94.70 420.30 L95.20 420.39 L95.70 420.68 L96.20 420.82 L96.70 420.75 L97.20 420.65 L97.70 420.48 L98.20 420.31 L98.70 420.33 L99.20 420.35 L99.70 420.40 L100.20 420.44 L100.70 420.39 L101.20 420.27 L101.70 420.19 L102.20 420.17 L102.70 420.11 L103.20 419.94 L103.70 419.77 L104.20 419.97 L104.70 420.17 L105.20 420.15 L105.70 420.07 L106.20 420.01 L106.70 419.96 L107.20 419.82 L107.70 419.54 L108.20 419.38 L108.70 419.67 L109.20 419.96 L109.70 419.72 L110.20 419.48 L110.70 419.33 L111.20 419.20 L111.70 419.27 L112.20 419.47 L112.70 419.47 L113.20 419.17 L113.70 418.88 L114.20 418.65 L114.70 418.42 L115.20 418.47 L115.70 418.52 L116.20 418.21 L116.70 417.69 L117.20 417.54 L117.70 417.61 L118.20 417.48 L118.70 417.01 L119.20 416.57 L119.70 416.23 L120.20 415.89 L120.70 415.80 L121.20 415.71 L121.70 415.35 L122.20 414.66 L122.70 413.65 L123.20 412.69 L123.70 411.73 L124.20 410.77 L124.70 409.33 L125.20 406.00 L125.70 402.67 L126.20 399.33 L126.70 396.00 L127.20 391.50 L127.70 385.25 L128.20 379.00 L128.70 371.43 L129.20 358.57 L129.70 345.71 L130.20 337.20 L130.70 335.20 L131.20 333.20 L131.70 331.20 L132.20 328.60 L132.70 325.10 L133.20 321.60 L133.70 318.10 L134.20 312.38 L134.70 303.31 L135.20 294.25 L135.70 287.21 L136.20 288.29 L136.70 289.36 L137.20 290.86 L137.70 293.00 L138.20 295.14 L138.70 291.50 L139.20 284.00 L139.70 276.50 L140.20 271.49 L140.70 270.20 L141.20 268.91 L141.70 270.30 L142.20 273.47 L142.70 275.57 L143.20 273.43 L143.70 271.29 L144.20 271.60 L144.70 275.60 L145.20 279.20 L145.70 282.20 L146.20 285.20 L146.70 288.20 L147.20 291.20 L147.70 294.20 L148.20 297.30 L148.70 300.55 L149.20 303.80 L149.70 307.05 L150.20 310.30 L150.70 313.55 L151.20 316.80 L151.70 320.05 L152.20 323.10 L152.70 325.85 L153.20 328.60 L153.70 331.35 L154.20 334.10 L154.70 336.85 L155.20 339.60 L155.70 342.35 L156.20 344.60 L156.70 346.10 L157.20 347.60 L157.70 349.10 L158.20 350.60 L158.70 352.10 L159.20 353.60 L159.70 355.10 L160.20 356.33 L160.70 357.17 L161.20 358.00 L161.70 358.83 L162.20 359.67 L162.70 360.50 L163.20 361.13 L163.70 361.47 L164.20 361.80 L164.70 362.07 L165.20 362.34 L165.70 362.73 L166.20 363.15 L166.70 363.69 L167.20 364.32 L167.70 364.83 L168.20 365.17 L168.70 365.43 L169.20 365.36 L169.70 365.30 L170.20 365.57 L170.70 365.57 L171.20 365.54 L171.70 365.51 L172.20 365.29 L172.70 364.96 L173.20 364.56 L173.70 364.07 L174.20 363.85 L174.70 364.46 L175.20 365.08 L175.70 365.19 L176.20 365.31 L176.70 365.30 L177.20 365.25 L177.70 365.09 L178.20 364.85 L178.70 364.79 L179.20 365.02 L179.70 365.20 L180.20 365.17 L180.70 365.14 L181.20 365.27 L181.70 365.40 L182.20 365.74 L182.70 366.09 L183.20 366.25 L183.70 366.29 L184.20 366.23 L184.70 366.02 L185.20 365.85 L185.70 365.81 L186.20 365.77 L186.70 365.79 L187.20 365.80 L187.70 365.67 L188.20 365.50 L188.70 365.42 L189.20 365.39 L189.70 365.32 L190.20 365.18 L190.70 365.11 L191.20 365.26 L191.70 365.41 L192.20 365.95 L192.70 366.49 L193.20 366.36 L193.70 366.05 L194.20 365.77 L194.70 365.51 L195.20 365.35 L195.70 365.33 L196.20 365.30 L196.70 365.22 L197.20 365.15 L197.70 365.44 L198.20 365.72 L198.70 365.76 L199.20 365.74 L199.70 365.47 L200.20 365.03 L200.70 364.93 L201.20 365.35 L201.70 365.63 L202.20 365.37 L202.70 365.11 L203.20 365.54 L203.70 365.97 L204.20 365.81 L204.70 365.50 L205.20 365.57 L205.70 365.90 L206.20 365.90 L206.70 365.38 L207.20 365.07 L207.70 365.33 L208.20 365.60 L208.70 365.95 L209.20 366.31 L209.70 366.70 L210.20 367.10 L210.70 367.33 L211.20 367.47 L211.70 367.55 L212.20 367.44 L212.70 367.49 L213.20 368.11 L213.70 368.74 L214.20 369.01 L214.70 369.28 L215.20 369.50 L215.70 369.70 L216.20 369.93 L216.70 370.19 L217.20 370.68 L217.70 371.53 L218.20 372.18 L218.70 372.00 L219.20 371.82 L219.70 372.02 L220.20 372.20 L220.70 372.71 L221.20 373.31 L221.70 373.64 L222.20 373.79 L222.70 373.96 L223.20 374.18 L223.70 374.44 L224.20 374.90 L224.70 375.36 L225.20 375.55 L225.70 375.75 L226.20 375.98 L226.70 376.21 L227.20 376.54 L227.70 376.94 L228.20 377.23 L228.70 377.33 L229.20 377.43 L229.70 377.49 L230.20 377.55 L230.70 377.87 L231.20 378.19 L231.70 378.43 L232.20 378.66 L232.70 379.01 L233.20 379.44 L233.70 379.68 L234.20 379.65 L234.70 379.64 L235.20 379.74 L235.70 379.83 L236.20 380.53 L236.70 381.22 L237.20 381.32 L237.70 381.25 L238.20 381.30 L238.70 381.43 L239.20 381.82 L239.70 382.61 L240.20 383.21 L240.70 383.13 L241.20 383.05 L241.70 383.50 L242.20 383.94 L242.70 383.98 L243.20 383.92 L243.70 383.91 L244.20 383.95 L244.70 384.03 L245.20 384.17 L245.70 384.35 L246.20 384.68 L246.70 385.02 L247.20 385.25 L247.70 385.47 L248.20 385.55 L248.70 385.60 L249.20 385.79 L249.70 386.08 L250.20 386.19 L250.70 386.03 L251.20 385.99 L251.70 386.46 L252.20 386.94 L252.70 386.64 L253.20 386.35 L253.70 386.68 L254.20 387.17 L254.70 387.55 L255.20 387.88 L255.70 388.15 L256.20 388.36 L256.70 388.58 L257.20 388.84 L257.70 389.11 L258.20 388.48 L258.70 387.86 L259.20 388.25 L259.70 388.90 L260.20 389.28 L260.70 389.47 L261.20 389.60 L261.70 389.64 L262.20 389.60 L262.70 389.26 L263.20 388.91 L263.70 389.31 L264.20 389.70 L264.70 390.12 L265.20 390.53 L265.70 390.30 L266.20 389.63 L266.70 389.44 L267.20 389.98 L267.70 390.45 L268.20 390.69 L268.70 390.92 L269.20 390.60 L269.70 390.28 L270.20 390.52 L270.70 390.90 L271.20 390.88 L271.70 390.60 L272.20 390.48 L272.70 390.63 L273.20 390.77 L273.70 390.86 L274.20 390.95 L274.70 391.27 L275.20 391.59 L275.70 391.67 L276.20 391.70 L276.70 391.90 L277.20 392.23 L277.70 392.29 L278.20 391.95 L278.70 391.73 L279.20 392.01 L279.70 392.28 L280.20 392.61 L280.70 392.91 L281.20 392.95 L281.70 392.92 L282.20 392.69 L282.70 392.32 L283.20 392.30 L283.70 392.81 L284.20 393.18 L284.70 392.98 L285.20 392.78 L285.70 393.04 L286.20 393.30 L286.70 393.38 L287.20 393.42 L287.70 393.60 L288.20 393.87 L288.70 393.95 L289.20 393.76 L289.70 393.53 L290.20 393.14 L290.70 392.76 L291.20 392.93 L291.70 393.10 L292.20 393.56 L292.70 394.10 L293.20 394.21 L293.70 394.05 L294.20 394.10 L294.70 394.48 L295.20 394.75 L295.70 394.62 L296.20 394.48 L296.70 394.31 L297.20 394.14 L297.70 394.48 L298.20 394.96 L298.70 394.93 L299.20 394.56 L299.70 394.25 L300.20 394.03 L300.70 394.07 L301.20 395.08 L301.70 396.09 L302.20 395.26 L302.70 394.43 L303.20 394.79 L303.70 395.44 L304.20 395.79 L304.70 395.93 L305.20 395.98 L305.70 395.87 L306.20 395.72 L306.70 395.38 L307.20 395.04 L307.70 395.73 L308.20 396.41 L308.70 396.17 L309.20 395.68 L309.70 395.55 L310.20 395.64 L310.70 395.82 L311.20 396.12 L311.70 396.43 L312.20 396.76 L312.70 397.10 L313.20 397.06 L313.70 397.03 L314.20 397.17 L314.70 397.36 L315.20 397.31 L315.70 397.10 L316.20 397.03 L316.70 397.17 L317.20 397.25 L317.70 397.11 L318.20 396.96 L318.70 397.22 L319.20 397.48 L319.70 397.76 L320.20 398.07 L320.70 398.16 L321.20 398.09 L321.70 398.17 L322.20 398.48 L322.70 398.71 L323.20 398.61 L323.70 398.50 L324.20 398.63 L324.70 398.76 L325.20 399.01 L325.70 399.28 L326.20 399.45 L326.70 399.56 L327.20 399.76 L327.70 400.10 L328.20 400.38 L328.70 400.45 L329.20 400.51 L329.70 401.03 L330.20 401.54 L330.70 401.42 L331.20 401.05 L331.70 400.83 L332.20 400.78 L332.70 400.66 L333.20 400.43 L333.70 400.29 L334.20 400.49 L334.70 400.68 L335.20 400.79 L335.70 400.89 L336.20 400.62 L336.70 400.25 L337.20 400.17 L337.70 400.29 L338.20 400.41 L338.70 400.54 L339.20 400.59 L339.70 400.36 L340.20 400.16 L340.70 400.13 L341.20 400.10 L341.70 400.42 L342.20 400.81 L342.70 400.89 L343.20 400.75 L343.70 400.72 L344.20 400.85 L344.70 401.00 L345.20 401.23 L345.70 401.47 L346.20 401.52 L346.70 401.58 L347.20 401.37 L347.70 401.09 L348.20 400.99 L348.70 401.01 L349.20 401.11 L349.70 401.36 L350.20 401.53 L350.70 401.46 L351.20 401.39 L351.70 401.01 L352.20 400.63 L352.70 401.15 L353.20 401.90 L353.70 402.04 L354.20 401.77 L354.70 401.69 L355.20 401.88 L355.70 401.94 L356.20 401.53 L356.70 401.12 L357.20 401.71 L357.70 402.29 L358.20 402.08 L358.70 401.68 L359.20 401.60 L359.70 401.73 L360.20 401.70 L360.70 401.43 L361.20 401.27 L361.70 401.58 L362.20 401.88 L362.70 401.89 L363.20 401.89 L363.70 401.90 L364.20 401.92 L364.70 402.01 L365.20 402.16 L365.70 402.22 L366.20 402.14 L366.70 402.12 L367.20 402.33 L367.70 402.54 L368.20 402.22 L368.70 401.90 L369.20 401.74 L369.70 401.63 L370.20 401.72 L370.70 401.95 L371.20 402.15 L371.70 402.30 L372.20 402.45 L372.70 402.60 L373.20 402.74 L373.70 402.65 L374.20 402.56 L374.70 402.08 L375.20 401.50 L375.70 401.56 L376.20 402.05 L376.70 402.45 L377.20 402.70 L377.70 402.84 L378.20 402.53 L378.70 402.22 L379.20 402.09 L379.70 401.97 L380.20 402.10 L380.70 402.29 L381.20 402.26 L381.70 402.08 L382.20 402.08 L382.70 402.35 L383.20 402.53 L383.70 402.39 L384.20 402.25 L384.70 402.57 L385.20 402.90 L385.70 402.81 L386.20 402.61 L386.70 402.37 L387.20 402.10 L387.70 402.06 L388.20 402.36 L388.70 402.63 L389.20 402.71 L389.70 402.79 L390.20 402.45 L390.70 402.12 L391.20 402.08 L391.70 402.12 L392.20 401.88 L392.70 401.46 L393.20 401.50 L393.70 402.24 L394.20 402.76 L394.70 402.43 L395.20 402.09 L395.70 401.75 L396.20 401.41 L396.70 401.41 L397.20 401.49 L397.70 401.74 L398.20 402.10 L398.70 402.41 L399.20 402.64 L399.70 402.78 L400.20 402.59 L400.70 402.41 L401.20 402.54 L401.70 402.67 L402.20 402.42 L402.70 402.07 L403.20 401.90 L403.70 401.85 L404.20 402.03 L404.70 402.54 L405.20 402.93 L405.70 402.85 L406.20 402.76 L406.70 402.65 L407.20 402.54 L407.70 402.76 L408.20 403.06 L408.70 402.88 L409.20 402.38 L409.70 402.13 L410.20 402.26 L410.70 402.43 L411.20 402.76 L411.70 403.10 L412.20 403.29 L412.70 403.48 L413.20 403.20 L413.70 402.82 L414.20 402.92 L414.70 403.33 L415.20 403.39 L415.70 402.90 L416.20 402.57 L416.70 402.81 L417.20 403.06 L417.70 402.98 L418.20 402.90 L418.70 402.66 L419.20 402.37 L419.70 402.53 L420.20 402.98 L420.70 403.33 L421.20 403.52 L421.70 403.63 L422.20 403.42 L422.70 403.21 L423.20 403.26 L423.70 403.31 L424.20 403.62 L424.70 403.99 L425.20 403.79 L425.70 403.23 L426.20 402.88 L426.70 402.86 L427.20 402.89 L427.70 403.12 L428.20 403.34 L428.70 403.25 L429.20 403.17 L429.70 403.64 L430.20 404.25 L430.70 404.38 L431.20 404.18 L431.70 403.96 L432.20 403.73 L432.70 403.57 L433.20 403.66 L433.70 403.75 L434.20 404.57 L434.70 405.40 L435.20 404.96 L435.70 404.21 L436.20 403.91 L436.70 403.91 L437.20 404.02 L437.70 404.30 L438.20 404.54 L438.70 404.65 L439.20 404.76 L439.70 404.70 L440.20 404.64 L440.70 404.44 L441.20 404.22 L441.70 404.11 L442.20 404.08 L442.70 404.23 L443.20 404.66 L443.70 404.98 L444.20 404.86 L444.70 404.74 L445.20 404.41 L445.70 404.07 L446.20 404.54 L446.70 405.21 L447.20 405.44 L447.70 405.38 L448.20 405.26 L448.70 405.06 L449.20 404.90 L449.70 404.92 L450.20 404.95 L450.70 405.09 L451.20 405.23 L451.70 405.11 L452.20 404.93 L452.70 404.78 L453.20 404.66 L453.70 404.75 L454.20 405.16 L454.70 405.41 L455.20 405.04 L455.70 404.67 L456.20 405.11 L456.70 405.56 L457.20 405.33 L457.70 404.95 L458.20 404.99 L458.70 405.32 L459.20 405.53 L459.70 405.55 L460.20 405.66 L460.70 406.13 L461.20 406.59 L461.70 405.97 L462.20 405.35 L462.70 405.19 L463.20 405.12 L463.70 405.18 L464.20 405.34 L464.70 405.39 L465.20 405.27 L465.70 405.20 L466.20 405.31 L466.70 405.42 L467.20 405.64 L467.70 405.85 L468.20 405.95 L468.70 406.02 L469.20 406.16 L469.70 406.35 L470.20 406.24 L470.70 405.69 L471.20 405.39 L471.70 406.15 L472.20 406.90 L472.70 406.74 L473.20 406.58 L473.70 406.14 L474.20 405.63 L474.70 405.14 L475.20 404.65 L475.70 404.56 L476.20 405.05 L476.70 405.44 L477.20 405.47 L477.70 405.49 L478.20 404.94 L478.70 404.39 L479.20 404.70 L479.70 405.23 L480.20 405.39 L480.70 405.32 L481.20 405.22 L481.70 405.07 L482.20 405.02 L482.70 405.33 L483.20 405.64 L483.70 405.71 L484.20 405.79 L484.70 405.52 L485.20 405.17 L485.70 405.12 L486.20 405.27 L486.70 405.28 L487.20 405.06 L487.70 404.89 L488.20 404.84 L488.70 404.80 L489.20 404.99 L489.70 405.17 L490.20 405.28 L490.70 405.37 L491.20 405.25 L491.70 404.99 L492.20 404.68 L492.70 404.29 L493.20 404.11 L493.70 404.73 L494.20 405.36 L494.70 404.85 L495.20 404.34 L495.70 404.54 L496.20 404.92 L496.70 405.29 L497.20 405.66 L497.70 405.73 L498.20 405.32 L498.70 404.94 L499.20 404.67 L499.70 404.41 L500.20 404.34 L500.70 404.28 L501.20 404.75 L501.70 405.35 L502.20 405.42 L502.70 405.15 L503.20 405.04 L503.70 405.17 L504.20 405.29 L504.70 405.38 L505.20 405.46 L505.70 405.24 L506.20 405.02 L506.70 404.93 L507.20 404.87 L507.70 404.76 L508.20 404.61 L508.70 404.33 L509.20 403.85 L509.70 403.53 L510.20 403.89 L510.70 404.24 L511.20 404.57 L511.70 404.90 L512.20 404.95 L512.70 404.92 L513.20 404.99 L513.70 405.12 L514.20 405.15 L514.70 405.03 L515.20 404.95 L515.70 405.01 L516.20 405.08 L516.70 405.22 L517.20 405.37 L517.70 405.09 L518.20 404.71 L518.70 404.64 L519.20 404.77 L519.70 404.74 L520.20 404.45 L520.70 404.35 L521.20 404.96 L521.70 405.57 L522.20 405.38 L522.70 405.20 L523.20 405.26 L523.70 405.39 L524.20 405.60 L524.70 405.86 L525.20 405.99 L525.70 405.91 L526.20 405.80 L526.70 405.56 L527.20 405.33 L527.70 405.55 L528.20 405.77 L528.70 405.43 L529.20 404.95 L529.70 405.02 L530.20 405.47 L530.70 405.73 L531.20 405.68 L531.70 405.57 L532.20 405.20 L532.70 404.83 L533.20 405.52 L533.70 406.22 L534.20 406.01 L534.70 405.57 L535.20 405.60 L535.70 405.94 L536.20 406.05 L536.70 405.83 L537.20 405.71 L537.70 406.06 L538.20 406.41 L538.70 406.50 L539.20 406.60 L539.70 406.25 L540.20 405.78 L540.70 405.50 L541.20 405.35 L541.70 405.40 L542.20 405.72 L542.70 406.03 L543.20 406.27 L543.70 406.50 L544.20 406.23 L544.70 405.97 L545.20 405.88 L545.70 405.83 L546.20 405.97 L546.70 406.23 L547.20 406.10 L547.70 405.37 L548.20 404.88 L548.70 405.37 L549.20 405.86 L549.70 405.70 L550.20 405.55 L550.70 405.83 L551.20 406.22 L551.70 406.25 L552.20 406.02 L552.70 405.86 L553.20 405.78 L553.70 405.76 L554.20 405.94 L554.70 406.12 L555.20 405.88 L555.70 405.64 L556.20 405.86 L556.70 406.20 L557.20 406.25 L557.70 406.11 L558.20 406.06 L558.70 406.14 L559.20 406.19 L559.70 406.12 L560.20 406.05 L560.70 406.43 L561.20 406.81 L561.70 406.71 L562.20 406.49 L562.70 406.50 L563.20 406.65 L563.70 406.74 L564.20 406.74 L564.70 406.69 L565.20 406.40 L565.70 406.12 L566.20 406.44 L566.70 406.77 L567.20 406.80 L567.70 406.76 L568.20 406.75 L568.70 406.75 L569.20 406.69 L569.70 406.54 L570.20 406.42 L570.70 406.42 L571.20 406.42 L571.70 406.71 L572.20 406.99 L572.70 407.31 L573.20 407.64 L573.70 407.37 L574.20 406.69" stroke="#000" stroke-width="1.9" fill="none" stroke-linejoin="round"/>
<path d="M87.20 424.80 L88.65 423.20 L90.10 424.58 L91.55 423.74 L93.00 424.04 L94.45 417.75 L95.90 420.19 L97.35 419.33 L98.80 420.29 L100.25 419.14 L101.70 418.97 L103.15 420.51 L104.60 421.87 L106.05 415.17 L107.50 418.06 L108.95 418.38 L110.40 417.47 L111.85 416.50 L113.30 414.70 L114.75 414.73 L116.20 416.27 L117.65 415.62 L119.10 413.30 L120.55 411.05 L122.00 411.12 L123.45 408.17 L124.90 406.58 L126.35 401.93 L127.80 391.76 L129.25 383.40 L130.70 370.49 L132.15 364.39 L133.60 356.35 L135.05 345.07 L136.50 341.09 L137.95 330.44 L139.40 325.69 L140.85 317.01 L142.30 306.48 L143.75 307.04 L145.20 307.83 L146.65 313.10 L148.10 318.88 L149.55 323.53 L151.00 326.61 L152.45 331.16 L153.90 330.71 L155.35 337.96 L156.80 341.09 L158.25 335.99 L159.70 332.67 L161.15 343.23 L162.60 344.80 L164.05 337.84 L165.50 331.80 L166.95 339.11 L168.40 344.97 L169.85 327.93 L171.30 339.16 L172.75 334.97 L174.20 332.01 L175.65 338.49 L177.10 329.92 L178.55 337.79 L180.00 342.83 L181.45 337.49 L182.90 332.59 L184.35 328.43 L185.80 330.81 L187.25 328.03 L188.70 344.21 L190.15 335.31 L191.60 331.41 L193.05 330.09 L194.50 331.05 L195.95 334.43 L197.40 333.50 L198.85 320.50 L200.30 332.50 L201.75 334.58 L203.20 339.83 L204.65 345.30 L206.10 344.93 L207.55 341.50 L209.00 328.50 L210.45 340.50 L211.90 343.84 L213.35 346.30 L214.80 344.28 L216.25 344.70 L217.70 352.01 L219.15 348.16 L220.60 358.48 L222.05 355.16 L223.50 353.16 L224.95 356.37 L226.40 356.98 L227.85 359.05 L229.30 362.91 L230.75 357.81 L232.20 357.75 L233.65 364.42 L235.10 364.12 L236.55 366.00 L238.00 367.73 L239.45 367.16 L240.90 370.42 L242.35 366.82 L243.80 369.87 L245.25 368.29 L246.70 368.21 L248.15 373.19 L249.60 373.73 L251.05 368.08 L252.50 370.62 L253.95 374.60 L255.40 377.00 L256.85 373.28 L258.30 374.96 L259.75 372.49 L261.20 382.47 L262.65 378.07 L264.10 379.58 L265.55 379.51 L267.00 380.67 L268.45 380.40 L269.90 378.67 L271.35 381.73 L272.80 380.67 L274.25 384.03 L275.70 379.78 L277.15 380.74 L278.60 384.04 L280.05 385.97 L281.50 383.63 L282.95 381.95 L284.40 383.61 L285.85 383.03 L287.30 388.78 L288.75 386.79 L290.20 387.90 L291.65 386.01 L293.10 384.37 L294.55 388.53 L296.00 389.89 L297.45 387.78 L298.90 386.73 L300.35 389.46 L301.80 386.54 L303.25 389.33 L304.70 386.39 L306.15 386.12 L307.60 389.75 L309.05 389.54 L310.50 393.20 L311.95 388.79 L313.40 389.73 L314.85 387.54 L316.30 386.29 L317.75 386.78 L319.20 391.82 L320.65 388.61 L322.10 393.62 L323.55 394.41 L325.00 391.03 L326.45 395.24 L327.90 392.46 L329.35 394.48 L330.80 391.89 L332.25 394.49 L333.70 390.79 L335.15 394.15 L336.60 392.15 L338.05 392.99 L339.50 394.70 L340.95 394.06 L342.40 393.89 L343.85 395.79 L345.30 396.26 L346.75 392.34 L348.20 396.42 L349.65 396.95 L351.10 394.58 L352.55 397.05 L354.00 394.19 L355.45 399.63 L356.90 396.87 L358.35 397.49 L359.80 400.11 L361.25 397.90 L362.70 399.40 L364.15 396.68 L365.60 397.71 L367.05 396.47 L368.50 398.71 L369.95 401.00 L371.40 399.80 L372.85 401.08 L374.30 398.09 L375.75 398.52 L377.20 399.39 L378.65 401.26 L380.10 401.07 L381.55 400.52 L383.00 401.57 L384.45 400.40 L385.90 400.65 L387.35 402.71 L388.80 399.88 L390.25 401.08 L391.70 403.25 L393.15 401.05 L394.60 401.97 L396.05 400.11 L397.50 403.82 L398.95 397.90 L400.40 399.53 L401.85 399.69 L403.30 403.47 L404.75 401.74 L406.20 400.93 L407.65 399.55 L409.10 401.89 L410.55 401.58 L412.00 400.51 L413.45 399.46 L414.90 400.07 L416.35 401.96 L417.80 402.17 L419.25 401.91 L420.70 401.68 L422.15 399.53 L423.60 402.10 L425.05 400.69 L426.50 402.23 L427.95 402.88 L429.40 401.40 L430.85 401.00 L432.30 403.82 L433.75 403.02 L435.20 401.74 L436.65 398.61 L438.10 402.69 L439.55 403.68 L441.00 404.42 L442.45 402.06 L443.90 402.18 L445.35 402.52 L446.80 404.32 L448.25 401.68 L449.70 403.18 L451.15 402.17 L452.60 403.84 L454.05 401.47 L455.50 404.13 L456.95 403.03 L458.40 403.47 L459.85 404.54 L461.30 405.44 L462.75 401.73 L464.20 405.23 L465.65 404.51 L467.10 403.25 L468.55 405.37 L470.00 403.63 L471.45 404.96 L472.90 402.35 L474.35 401.86 L475.80 404.48 L477.25 405.58 L478.70 403.45 L480.15 403.67 L481.60 401.88 L483.05 400.77 L484.50 402.21 L485.95 404.45 L487.40 400.08 L488.85 401.86 L490.30 400.02 L491.75 402.64 L493.20 403.63 L494.65 400.89 L496.10 401.97 L497.55 404.21 L499.00 402.39 L500.45 400.91 L501.90 400.81 L503.35 399.92 L504.80 403.49 L506.25 401.71 L507.70 404.20 L509.15 404.16 L510.60 402.41 L512.05 402.77 L513.50 404.62 L514.95 404.02 L516.40 404.36 L517.85 402.13 L519.30 405.54 L520.75 403.42 L522.20 401.70 L523.65 403.82 L525.10 405.17 L526.55 407.31 L528.00 404.25 L529.45 403.10 L530.90 407.46 L532.35 405.04 L533.80 404.56 L535.25 403.58 L536.70 403.71 L538.15 406.84 L539.60 404.71 L541.05 404.42 L542.50 404.49 L543.95 407.10 L545.40 404.47 L546.85 406.02 L548.30 405.61 L549.75 405.62 L551.20 404.29 L552.65 406.21 L554.10 407.41 L555.55 405.42 L557.00 404.40 L558.45 403.99 L559.90 405.83 L561.35 405.31 L562.80 405.56 L564.25 405.74 L565.70 403.98 L567.15 406.75 L568.60 406.13 L570.05 405.79 L571.50 406.20 L572.95 407.08" stroke="#000" stroke-width="1.0" fill="none" stroke-dasharray="1.7 4.4"/>
<line x1="450.00" y1="271.70" x2="470.00" y2="271.70" stroke="#000" stroke-width="1.9"/>
<line x1="449.90" y1="291.00" x2="451.50" y2="291.00" stroke="#000" stroke-width="1.3"/>
<line x1="457.50" y1="291.00" x2="459.10" y2="291.00" stroke="#000" stroke-width="1.3"/>
<line x1="465.10" y1="291.00" x2="466.70" y2="291.00" stroke="#000" stroke-width="1.3"/>
<line x1="168.40" y1="317.60" x2="574.30" y2="317.60" stroke="#222" stroke-width="1.0"/>
<path d="M179.30 311.50 L168.60 317.60 L179.30 324.00" stroke="#000" stroke-width="0.9" fill="none"/>
<path d="M563.50 311.50 L574.30 317.60 L563.50 324.00" stroke="#000" stroke-width="0.9" fill="none"/>
<line x1="247.80" y1="431.50" x2="247.80" y2="644.00" stroke="#111" stroke-width="0.75" stroke-dasharray="11 10.8" stroke-dashoffset="14.9" fill="none"/>
<path d="M248.00 533.72 L248.80 535.54 L249.60 549.00 L250.40 543.40 L251.20 543.26 L252.00 540.89 L252.80 548.43 L253.60 545.18 L254.40 548.68 L255.20 554.22 L256.00 554.13 L256.80 559.70 L257.60 558.43 L258.40 557.18 L259.20 559.09 L260.00 559.99 L260.80 565.62 L261.60 564.22 L262.40 563.59 L263.20 569.57 L264.00 567.71 L264.80 566.60 L265.60 563.63 L266.40 572.22 L267.20 572.51 L268.00 572.86 L268.80 572.08 L269.60 571.25 L270.40 574.08 L271.20 576.34 L272.00 575.52 L272.80 575.99 L273.60 575.33 L274.40 578.85 L275.20 578.99 L276.00 575.91 L276.80 581.97 L277.60 582.61 L278.40 583.58 L279.20 581.45 L280.00 582.50 L280.80 580.34 L281.60 588.44 L282.40 579.48 L283.20 586.94 L284.00 588.41 L284.80 593.87 L285.60 592.04 L286.40 589.02 L287.20 587.76 L288.00 590.50 L288.80 593.68 L289.60 593.83 L290.40 593.29 L291.20 591.97 L292.00 593.90 L292.80 598.25 L293.60 591.84 L294.40 596.28 L295.20 602.16 L296.00 599.32 L296.80 596.68 L297.60 600.98 L298.40 597.07 L299.20 600.19 L300.00 605.81 L300.80 607.52 L301.60 596.76 L302.40 604.90 L303.20 609.19 L304.00 601.81 L304.80 604.70 L305.60 608.92 L306.40 603.20 L307.20 606.47 L308.00 605.32 L308.80 600.15 L309.60 607.33 L310.40 606.16 L311.20 609.82 L312.00 613.60 L312.80 609.88 L313.60 607.24 L314.40 609.92 L315.20 609.48 L316.00 612.06 L316.80 605.43 L317.60 606.48 L318.40 604.35 L319.20 611.93 L320.00 610.49 L320.80 609.08 L321.60 609.14 L322.40 609.83 L323.20 609.18 L324.00 611.06 L324.80 610.88 L325.60 616.04 L326.40 613.55 L327.20 610.90 L328.00 611.78 L328.80 616.54 L329.60 614.88 L330.40 614.69 L331.20 615.94 L332.00 618.24 L332.80 611.65 L333.60 613.01 L334.40 610.87 L335.20 616.38 L336.00 614.54 L336.80 614.07 L337.60 614.08 L338.40 617.62 L339.20 615.93 L340.00 615.27 L340.80 619.46 L341.60 614.57 L342.40 614.32 L343.20 622.90 L344.00 616.71 L344.80 616.50 L345.60 616.28 L346.40 617.68 L347.20 619.74 L348.00 619.82 L348.80 619.54 L349.60 618.03 L350.40 615.77 L351.20 619.46 L352.00 622.07 L352.80 621.33 L353.60 619.03 L354.40 621.10 L355.20 618.92 L356.00 619.73 L356.80 617.59 L357.60 619.53 L358.40 620.57 L359.20 620.13 L360.00 622.09 L360.80 624.37 L361.60 623.44 L362.40 620.48 L363.20 619.78 L364.00 620.05 L364.80 619.55 L365.60 621.56 L366.40 622.40 L367.20 622.06 L368.00 622.19 L368.80 622.24 L369.60 621.81 L370.40 620.80 L371.20 625.43 L372.00 624.30 L372.80 620.85 L373.60 620.97 L374.40 621.66 L375.20 622.89 L376.00 625.20 L376.80 624.87 L377.60 625.07 L378.40 625.21 L379.20 625.34 L380.00 624.80 L380.80 624.43 L381.60 623.56 L382.40 620.86 L383.20 623.81 L384.00 627.28 L384.80 623.37 L385.60 623.36 L386.40 626.31 L387.20 624.84 L388.00 624.02 L388.80 627.60 L389.60 626.15 L390.40 626.50 L391.20 624.42 L392.00 626.33 L392.80 626.26 L393.60 627.05 L394.40 627.79 L395.20 627.88 L396.00 626.44 L396.80 627.42 L397.60 624.58 L398.40 627.59 L399.20 627.75 L400.00 626.13 L400.80 625.62 L401.60 626.86 L402.40 625.13 L403.20 627.69 L404.00 627.71 L404.80 625.87 L405.60 627.52 L406.40 629.20 L407.20 629.29 L408.00 629.30 L408.80 627.62 L409.60 627.43 L410.40 627.47 L411.20 629.09 L412.00 631.86 L412.80 630.55 L413.60 630.94 L414.40 630.71 L415.20 626.45 L416.00 628.67 L416.80 628.46 L417.60 631.05 L418.40 631.80 L419.20 628.52 L420.00 629.66 L420.80 630.54 L421.60 629.17 L422.40 629.10 L423.20 629.17 L424.00 631.50 L424.80 629.11 L425.60 632.09 L426.40 630.76 L427.20 631.81 L428.00 633.02 L428.80 630.11 L429.60 630.04 L430.40 631.86 L431.20 630.02 L432.00 630.56 L432.80 631.52 L433.60 631.98 L434.40 630.23 L435.20 631.47 L436.00 632.84 L436.80 633.93 L437.60 629.74 L438.40 634.07 L439.20 633.62 L440.00 631.20 L440.80 630.82 L441.60 633.32 L442.40 632.36 L443.20 633.16 L444.00 634.16 L444.80 632.73 L445.60 633.49 L446.40 633.98 L447.20 634.58 L448.00 635.73 L448.80 635.75 L449.60 634.09 L450.40 633.62 L451.20 636.82 L452.00 634.86 L452.80 634.71 L453.60 633.01 L454.40 635.32 L455.20 633.60 L456.00 634.08 L456.80 633.17 L457.60 634.22 L458.40 634.98 L459.20 633.30 L460.00 634.10 L460.80 635.13 L461.60 633.90 L462.40 634.02 L463.20 634.59 L464.00 634.06 L464.80 636.40 L465.60 634.73 L466.40 636.77 L467.20 637.03 L468.00 634.79 L468.80 636.21 L469.60 635.72 L470.40 635.09 L471.20 636.02 L472.00 636.20 L472.80 637.28 L473.60 637.68 L474.40 635.52 L475.20 636.32 L476.00 637.37 L476.80 638.11 L477.60 634.45 L478.40 638.35 L479.20 636.94 L480.00 638.74 L480.80 636.83 L481.60 636.49 L482.40 637.45 L483.20 638.64 L484.00 637.58 L484.80 635.29 L485.60 638.36 L486.40 636.19 L487.20 636.88 L488.00 636.78 L488.80 636.21 L489.60 636.85 L490.40 637.18 L491.20 637.62 L492.00 638.22 L492.80 638.03 L493.60 637.03 L494.40 638.32 L495.20 639.47 L496.00 639.51 L496.80 638.83 L497.60 639.35 L498.40 639.67 L499.20 640.16 L500.00 640.53 L500.80 638.75 L501.60 638.84 L502.40 640.43 L503.20 640.54 L504.00 640.56 L504.80 637.21 L505.60 639.10 L506.40 636.52 L507.20 640.00 L508.00 639.46 L508.80 639.50 L509.60 639.38 L510.40 640.63 L511.20 639.33 L512.00 640.47 L512.80 640.12 L513.60 639.99 L514.40 640.12 L515.20 639.87 L516.00 638.94 L516.80 640.44 L517.60 640.47 L518.40 639.83 L519.20 640.56 L520.00 640.73 L520.80 639.08 L521.60 640.00 L522.40 639.81 L523.20 639.51 L524.00 640.48 L524.80 639.64 L525.60 639.99 L526.40 640.54 L527.20 640.66 L528.00 640.68 L528.80 642.11 L529.60 640.16 L530.40 640.75 L531.20 639.75 L532.00 640.99 L532.80 641.50 L533.60 641.57 L534.40 640.30 L535.20 640.57 L536.00 641.65 L536.80 640.75 L537.60 641.48 L538.40 640.21 L539.20 641.80 L540.00 641.58 L540.80 641.23 L541.60 640.43 L542.40 640.87 L543.20 641.10 L544.00 641.19 L544.80 640.98 L545.60 640.93 L546.40 641.21 L547.20 641.98 L548.00 639.91 L548.80 640.33 L549.60 640.26 L550.40 640.80 L551.20 640.20 L552.00 641.58 L552.80 641.34 L553.60 641.16 L554.40 640.94 L555.20 641.44 L556.00 641.48 L556.80 641.58 L557.60 641.02 L558.40 641.80 L559.20 640.67 L560.00 642.17 L560.80 639.87 L561.60 641.23 L562.40 640.93 L563.20 642.00 L564.00 640.85 L564.80 642.57 L565.60 640.88 L566.40 642.70 L567.20 641.92 L568.00 641.72 L568.80 641.91 L569.60 642.76 L570.40 642.13 L571.20 638.31 L572.00 637.26 L572.80 634.14" stroke="#000" stroke-width="0.8" fill="none" stroke-linejoin="bevel"/>
<path d="M248.00 615.56 L248.80 619.01 L249.60 617.26 L250.40 619.51 L251.20 620.18 L252.00 619.74 L252.80 621.86 L253.60 620.51 L254.40 622.37 L255.20 621.82 L256.00 622.54 L256.80 625.26 L257.60 623.48 L258.40 622.41 L259.20 623.82 L260.00 623.38 L260.80 624.58 L261.60 625.03 L262.40 625.24 L263.20 625.54 L264.00 625.15 L264.80 626.55 L265.60 627.51 L266.40 625.92 L267.20 626.74 L268.00 627.07 L268.80 628.55 L269.60 628.56 L270.40 626.82 L271.20 627.88 L272.00 626.41 L272.80 627.18 L273.60 628.42 L274.40 629.26 L275.20 629.80 L276.00 628.68 L276.80 627.80 L277.60 629.81 L278.40 629.42 L279.20 630.23 L280.00 630.16 L280.80 630.92 L281.60 631.06 L282.40 631.44 L283.20 630.34 L284.00 631.99 L284.80 630.62 L285.60 631.31 L286.40 633.16 L287.20 631.80 L288.00 630.44 L288.80 633.12 L289.60 632.76 L290.40 633.00 L291.20 632.22 L292.00 632.47 L292.80 632.04 L293.60 631.72 L294.40 633.91 L295.20 632.26 L296.00 632.27 L296.80 632.42 L297.60 634.64 L298.40 633.86 L299.20 632.84 L300.00 633.24 L300.80 633.86 L301.60 634.30 L302.40 632.19 L303.20 634.55 L304.00 633.66 L304.80 633.36 L305.60 633.70 L306.40 634.79 L307.20 635.69 L308.00 634.33 L308.80 634.74 L309.60 633.60 L310.40 634.79 L311.20 635.13 L312.00 633.18 L312.80 634.08 L313.60 635.25 L314.40 633.12 L315.20 634.36 L316.00 635.25 L316.80 633.35 L317.60 634.50 L318.40 634.94 L319.20 635.70 L320.00 633.93 L320.80 635.98 L321.60 635.36 L322.40 636.16 L323.20 636.18 L324.00 635.55 L324.80 635.72 L325.60 633.94 L326.40 634.32 L327.20 634.66 L328.00 635.25 L328.80 636.35 L329.60 634.19 L330.40 635.43 L331.20 634.68 L332.00 634.55 L332.80 637.04 L333.60 635.99 L334.40 637.26 L335.20 636.95 L336.00 635.30 L336.80 634.60 L337.60 637.72 L338.40 635.80 L339.20 635.24 L340.00 636.71 L340.80 636.30 L341.60 635.70 L342.40 635.98 L343.20 636.40 L344.00 636.36 L344.80 636.91 L345.60 636.08 L346.40 636.12 L347.20 636.86 L348.00 636.67 L348.80 637.28 L349.60 636.30 L350.40 636.44 L351.20 635.68 L352.00 637.68 L352.80 635.56 L353.60 636.77 L354.40 635.99 L355.20 636.92 L356.00 637.24 L356.80 635.53 L357.60 636.60 L358.40 635.51 L359.20 637.82 L360.00 636.51 L360.80 635.73 L361.60 636.38 L362.40 637.85 L363.20 638.00 L364.00 637.87 L364.80 636.44 L365.60 636.91 L366.40 638.19 L367.20 636.56 L368.00 636.87 L368.80 636.47 L369.60 636.35 L370.40 638.01 L371.20 637.64 L372.00 637.54 L372.80 637.66 L373.60 637.98 L374.40 638.34 L375.20 637.34 L376.00 637.14 L376.80 636.71 L377.60 638.14 L378.40 637.10 L379.20 636.48 L380.00 637.32 L380.80 637.54 L381.60 638.10 L382.40 638.24 L383.20 637.13 L384.00 637.11 L384.80 637.45 L385.60 636.91 L386.40 637.64 L387.20 638.03 L388.00 637.79 L388.80 636.77 L389.60 637.07 L390.40 638.66 L391.20 637.24 L392.00 638.36 L392.80 638.32 L393.60 637.75 L394.40 637.37 L395.20 638.14 L396.00 637.49 L396.80 637.95 L397.60 638.15 L398.40 637.68 L399.20 638.00 L400.00 637.98 L400.80 637.45 L401.60 638.11 L402.40 637.87 L403.20 637.19 L404.00 638.10 L404.80 638.16 L405.60 638.00 L406.40 637.17 L407.20 638.86 L408.00 638.83 L408.80 638.84 L409.60 638.68 L410.40 637.79 L411.20 638.65 L412.00 638.09 L412.80 639.95 L413.60 638.43 L414.40 639.17 L415.20 637.95 L416.00 638.22 L416.80 638.64 L417.60 639.40 L418.40 639.36 L419.20 639.26 L420.00 638.10 L420.80 639.84 L421.60 638.74 L422.40 640.22 L423.20 640.41 L424.00 639.87 L424.80 640.02 L425.60 638.82 L426.40 641.00 L427.20 639.74 L428.00 640.23 L428.80 639.25 L429.60 639.74 L430.40 639.18 L431.20 639.75 L432.00 639.94 L432.80 640.13 L433.60 640.77 L434.40 640.30 L435.20 640.20 L436.00 640.11 L436.80 641.19 L437.60 639.83 L438.40 640.79 L439.20 639.14 L440.00 639.74 L440.80 640.45 L441.60 640.17 L442.40 641.86 L443.20 641.66 L444.00 639.53 L444.80 639.79 L445.60 640.30 L446.40 641.30 L447.20 641.01 L448.00 640.61 L448.80 639.73 L449.60 640.05 L450.40 639.13 L451.20 639.75 L452.00 640.78 L452.80 640.99 L453.60 639.94 L454.40 640.69 L455.20 641.48 L456.00 640.76 L456.80 640.55 L457.60 641.03 L458.40 641.01 L459.20 640.81 L460.00 640.53 L460.80 640.61 L461.60 640.89 L462.40 640.60 L463.20 641.55 L464.00 641.35 L464.80 641.47 L465.60 641.95 L466.40 641.75 L467.20 641.69 L468.00 641.20 L468.80 640.95 L469.60 642.16 L470.40 640.75 L471.20 640.80 L472.00 640.69 L472.80 641.23 L473.60 641.34 L474.40 641.65 L475.20 641.07 L476.00 640.38 L476.80 641.36 L477.60 641.68 L478.40 641.26 L479.20 641.20 L480.00 641.54 L480.80 641.96 L481.60 641.28 L482.40 640.68 L483.20 641.09 L484.00 641.29 L484.80 640.56 L485.60 641.74 L486.40 641.07 L487.20 641.66 L488.00 641.53 L488.80 641.32 L489.60 642.21 L490.40 641.25 L491.20 641.22 L492.00 641.66 L492.80 641.92 L493.60 641.56 L494.40 641.15 L495.20 641.90 L496.00 641.88 L496.80 642.53 L497.60 641.55 L498.40 641.76 L499.20 641.44 L500.00 641.06 L500.80 641.74 L501.60 642.08 L502.40 641.29 L503.20 641.44 L504.00 641.24 L504.80 642.30 L505.60 641.48 L506.40 642.00 L507.20 641.40 L508.00 641.80 L508.80 641.52 L509.60 640.81 L510.40 641.82 L511.20 642.01 L512.00 640.95 L512.80 641.74 L513.60 641.64 L514.40 641.39 L515.20 641.73 L516.00 641.06 L516.80 641.94 L517.60 642.32 L518.40 641.36 L519.20 641.84 L520.00 642.43 L520.80 641.93 L521.60 641.68 L522.40 641.54 L523.20 641.97 L524.00 641.85 L524.80 642.15 L525.60 641.33 L526.40 642.34 L527.20 641.78 L528.00 642.18 L528.80 641.67 L529.60 641.46 L530.40 641.75 L531.20 641.61 L532.00 641.83 L532.80 642.22 L533.60 642.39 L534.40 642.07 L535.20 641.80 L536.00 641.84 L536.80 642.23 L537.60 642.43 L538.40 641.91 L539.20 641.99 L540.00 641.77 L540.80 642.12 L541.60 642.40 L542.40 641.03 L543.20 642.16 L544.00 641.88 L544.80 641.26 L545.60 642.20 L546.40 642.06 L547.20 642.23 L548.00 641.64 L548.80 642.85 L549.60 642.16 L550.40 642.01 L551.20 642.66 L552.00 642.36 L552.80 642.43 L553.60 642.55 L554.40 641.47 L555.20 642.73 L556.00 642.06 L556.80 642.28 L557.60 642.49 L558.40 641.96 L559.20 642.31 L560.00 642.46 L560.80 642.20 L561.60 642.38 L562.40 641.71 L563.20 641.86 L564.00 641.88 L564.80 642.37 L565.60 643.44 L566.40 642.35 L567.20 642.23 L568.00 642.26 L568.80 642.59 L569.60 642.51 L570.40 641.95 L571.20 640.44 L572.00 637.64 L572.80 635.42" stroke="#000" stroke-width="0.8" fill="none" stroke-linejoin="bevel"/>
<line x1="189.90" y1="730.00" x2="189.90" y2="732.30" stroke="#111" stroke-width="0.64" fill="none"/>
<line x1="189.90" y1="889.00" x2="189.90" y2="891.30" stroke="#111" stroke-width="0.64" fill="none"/>
<line x1="242.03" y1="730.00" x2="242.03" y2="732.30" stroke="#111" stroke-width="0.64" fill="none"/>
<line x1="242.03" y1="889.00" x2="242.03" y2="891.30" stroke="#111" stroke-width="0.64" fill="none"/>
<line x1="279.01" y1="730.00" x2="279.01" y2="732.30" stroke="#111" stroke-width="0.64" fill="none"/>
<line x1="279.01" y1="889.00" x2="279.01" y2="891.30" stroke="#111" stroke-width="0.64" fill="none"/>
<line x1="307.70" y1="730.00" x2="307.70" y2="732.30" stroke="#111" stroke-width="0.64" fill="none"/>
<line x1="307.70" y1="889.00" x2="307.70" y2="891.30" stroke="#111" stroke-width="0.64" fill="none"/>
<line x1="331.13" y1="730.00" x2="331.13" y2="732.30" stroke="#111" stroke-width="0.64" fill="none"/>
<line x1="331.13" y1="889.00" x2="331.13" y2="891.30" stroke="#111" stroke-width="0.64" fill="none"/>
<line x1="350.95" y1="730.00" x2="350.95" y2="732.30" stroke="#111" stroke-width="0.64" fill="none"/>
<line x1="350.95" y1="889.00" x2="350.95" y2="891.30" stroke="#111" stroke-width="0.64" fill="none"/>
<line x1="368.11" y1="730.00" x2="368.11" y2="732.30" stroke="#111" stroke-width="0.64" fill="none"/>
<line x1="368.11" y1="889.00" x2="368.11" y2="891.30" stroke="#111" stroke-width="0.64" fill="none"/>
<line x1="383.26" y1="730.00" x2="383.26" y2="732.30" stroke="#111" stroke-width="0.64" fill="none"/>
<line x1="383.26" y1="889.00" x2="383.26" y2="891.30" stroke="#111" stroke-width="0.64" fill="none"/>
<line x1="396.80" y1="730.00" x2="396.80" y2="734.50" stroke="#111" stroke-width="0.64" fill="none"/>
<line x1="396.80" y1="886.80" x2="396.80" y2="891.30" stroke="#111" stroke-width="0.64" fill="none"/>
<line x1="485.90" y1="730.00" x2="485.90" y2="732.30" stroke="#111" stroke-width="0.64" fill="none"/>
<line x1="485.90" y1="889.00" x2="485.90" y2="891.30" stroke="#111" stroke-width="0.64" fill="none"/>
<line x1="538.03" y1="730.00" x2="538.03" y2="732.30" stroke="#111" stroke-width="0.64" fill="none"/>
<line x1="538.03" y1="889.00" x2="538.03" y2="891.30" stroke="#111" stroke-width="0.64" fill="none"/>
<line x1="100.80" y1="730.00" x2="100.80" y2="734.50" stroke="#111" stroke-width="0.64" fill="none"/>
<line x1="100.80" y1="886.80" x2="100.80" y2="891.30" stroke="#111" stroke-width="0.64" fill="none"/>
<clipPath id="c4"><rect x="87.2" y="730.0" width="487.09999999999997" height="161.29999999999995"/></clipPath>
<g clip-path="url(#c4)">
<path d="M100.80 889.50 L189.70 880.00 L270.40 855.00 L388.40 790.75 L464.40 845.75" stroke="#000" stroke-width="0.8" fill="none"/>
<path d="M100.80 890.60 L189.70 885.75 L270.40 881.75 L388.40 862.50 L464.40 876.25" stroke="#000" stroke-width="0.9" fill="none" stroke-dasharray="2 5"/>
<line x1="94.80" y1="889.50" x2="106.80" y2="889.50" stroke="#000" stroke-width="0.7"/>
<line x1="100.80" y1="883.30" x2="100.80" y2="895.70" stroke="#000" stroke-width="0.7"/>
<line x1="183.70" y1="880.00" x2="195.70" y2="880.00" stroke="#000" stroke-width="0.7"/>
<line x1="189.70" y1="873.80" x2="189.70" y2="886.20" stroke="#000" stroke-width="0.7"/>
<line x1="264.40" y1="855.00" x2="276.40" y2="855.00" stroke="#000" stroke-width="0.7"/>
<line x1="270.40" y1="848.80" x2="270.40" y2="861.20" stroke="#000" stroke-width="0.7"/>
<line x1="382.40" y1="790.75" x2="394.40" y2="790.75" stroke="#000" stroke-width="0.7"/>
<line x1="388.40" y1="784.55" x2="388.40" y2="796.95" stroke="#000" stroke-width="0.7"/>
<line x1="458.40" y1="845.75" x2="470.40" y2="845.75" stroke="#000" stroke-width="0.7"/>
<line x1="464.40" y1="839.55" x2="464.40" y2="851.95" stroke="#000" stroke-width="0.7"/>
<line x1="94.80" y1="890.60" x2="106.80" y2="890.60" stroke="#000" stroke-width="0.7"/>
<line x1="100.80" y1="884.40" x2="100.80" y2="896.80" stroke="#000" stroke-width="0.7"/>
<line x1="183.70" y1="885.75" x2="195.70" y2="885.75" stroke="#000" stroke-width="0.7"/>
<line x1="189.70" y1="879.55" x2="189.70" y2="891.95" stroke="#000" stroke-width="0.7"/>
<line x1="264.40" y1="881.75" x2="276.40" y2="881.75" stroke="#000" stroke-width="0.7"/>
<line x1="270.40" y1="875.55" x2="270.40" y2="887.95" stroke="#000" stroke-width="0.7"/>
<line x1="382.40" y1="862.50" x2="394.40" y2="862.50" stroke="#000" stroke-width="0.7"/>
<line x1="388.40" y1="856.30" x2="388.40" y2="868.70" stroke="#000" stroke-width="0.7"/>
<line x1="458.40" y1="876.25" x2="470.40" y2="876.25" stroke="#000" stroke-width="0.7"/>
<line x1="464.40" y1="870.05" x2="464.40" y2="882.45" stroke="#000" stroke-width="0.7"/>
</g>
<rect x="87.2" y="6.35" width="487.09999999999997" height="212.45" stroke="#111" stroke-width="0.64" fill="none"/>
<rect x="87.2" y="218.8" width="487.09999999999997" height="212.70" stroke="#111" stroke-width="0.64" fill="none"/>
<rect x="87.2" y="431.5" width="487.09999999999997" height="212.50" stroke="#111" stroke-width="0.64" fill="none"/>
<rect x="87.2" y="730.0" width="487.09999999999997" height="161.30" stroke="#111" stroke-width="0.64" fill="none"/>
<text x="81.90" y="18.20" font-size="20.4" text-anchor="end" >1E-3</text>
<text x="63.60" y="47.66" font-size="20.4" text-anchor="middle" >X</text>
<text x="63.60" y="83.07" font-size="20.4" text-anchor="middle" >M</text>
<text x="63.60" y="118.48" font-size="20.4" text-anchor="middle" >C</text>
<text x="63.60" y="153.88" font-size="20.4" text-anchor="middle" >B</text>
<text x="63.60" y="189.29" font-size="20.4" text-anchor="middle" >A</text>
<text x="81.90" y="218.30" font-size="20.4" text-anchor="end" >1E-9</text>
<text x="0.00" y="0.00" font-size="20.62" text-anchor="middle" transform="translate(22.00 113.00) rotate(-90)" >Flux [Watts m<tspan dy="-11.5" font-size="11">-</tspan><tspan dy="3.8" font-size="16.8">2</tspan><tspan dy="7.7">]</tspan></text>
<text x="505.60" y="36.00" font-size="27.7" text-anchor="middle"  style="stroke-width:0.32px">GOES</text>
<clipPath id="ca1"><rect x="460" y="72.3" width="70" height="20"/></clipPath><clipPath id="ca2"><rect x="460" y="118.4" width="70" height="20"/></clipPath>
<g clip-path="url(#ca1)">
<text x="524.60" y="85.30" font-size="17.8" text-anchor="end" >1-8 Å</text>
</g>
<g clip-path="url(#ca2)">
<text x="524.60" y="131.40" font-size="17.8" text-anchor="end" >0.1-4 Å</text>
</g>
<circle cx="518.5" cy="67.8" r="2.05" fill="none" stroke="#000" stroke-width="1.15"/>
<circle cx="518.5" cy="113.9" r="2.05" fill="none" stroke="#000" stroke-width="1.15"/>
<text x="81.90" y="268.10" font-size="20.4" text-anchor="end" >30</text>
<text x="81.90" y="321.40" font-size="20.4" text-anchor="end" >20</text>
<text x="81.90" y="374.70" font-size="20.4" text-anchor="end" >10</text>
<text x="81.90" y="428.00" font-size="20.4" text-anchor="end" >0</text>
<text x="0.00" y="0.00" font-size="20.4" text-anchor="middle" transform="translate(43.30 325.00) rotate(-90)" >Flux [sfu]</text>
<text x="503.50" y="252.00" font-size="27.7" text-anchor="middle"  style="stroke-width:0.32px">NoRH</text>
<text x="536.50" y="275.30" font-size="18.2" text-anchor="end" >17GHz</text>
<text x="536.50" y="296.00" font-size="18.2" text-anchor="end" >34GHz</text>
<text x="297.40" y="312.00" font-size="20.9" text-anchor="middle" style='font-family:"Liberation Serif", "Times New Roman", serif'>Thermal free-free</text>
<text x="81.90" y="451.80" font-size="20.4" text-anchor="end" >300</text>
<text x="81.90" y="485.20" font-size="20.4" text-anchor="end" >250</text>
<text x="81.90" y="518.60" font-size="20.4" text-anchor="end" >200</text>
<text x="81.90" y="552.00" font-size="20.4" text-anchor="end" >150</text>
<text x="81.90" y="585.40" font-size="20.4" text-anchor="end" >100</text>
<text x="81.90" y="618.80" font-size="20.4" text-anchor="end" >50</text>
<text x="0.00" y="0.00" font-size="20.4" text-anchor="middle" transform="translate(31.50 538.00) rotate(-90)" >Count rate</text>
<text x="500.90" y="469.30" font-size="27.3" text-anchor="middle"  style="stroke-width:0.32px">RHESSI</text>
<text x="171.20" y="477.50" font-size="18.2" text-anchor="middle" >satellite night time</text>
<text x="244.70" y="540.00" font-size="18.2" text-anchor="end" >6-12KeV</text>
<text x="244.70" y="620.80" font-size="18.2" text-anchor="end" >12-25KeV</text>
<text x="87.50" y="669.70" font-size="20.4" text-anchor="middle" >23:50</text>
<text x="168.68" y="669.70" font-size="20.4" text-anchor="middle" >00:00</text>
<text x="249.87" y="669.70" font-size="20.4" text-anchor="middle" >00:10</text>
<text x="331.05" y="669.70" font-size="20.4" text-anchor="middle" >00:20</text>
<text x="412.23" y="669.70" font-size="20.4" text-anchor="middle" >00:30</text>
<text x="493.42" y="669.70" font-size="20.4" text-anchor="middle" >00:40</text>
<text x="574.60" y="669.70" font-size="20.4" text-anchor="middle" >00:50</text>
<text x="330.90" y="692.20" font-size="20.62" text-anchor="middle" >Time (2010-Nov-4 23:50 - 2010-Nov-5 00:50) [UT]</text>
<text x="81.90" y="769.15" font-size="20.4" text-anchor="end" >60</text>
<text x="81.90" y="812.15" font-size="20.4" text-anchor="end" >40</text>
<text x="81.90" y="855.15" font-size="20.4" text-anchor="end" >20</text>
<text x="81.90" y="891.00" font-size="20.4" text-anchor="end" >0</text>
<text x="0.00" y="0.00" font-size="20.4" text-anchor="middle" transform="translate(43.50 810.40) rotate(-90)" >Flux [sfu]</text>
<text x="502.60" y="761.30" font-size="27.7" text-anchor="middle"  style="stroke-width:0.32px">NoRP</text>
<text x="474.00" y="853.30" font-size="16.1" text-anchor="start" >23:57UT</text>
<text x="474.00" y="880.00" font-size="16.1" text-anchor="start" >00:00UT</text>
<text x="100.60" y="916.80" font-size="20.4" text-anchor="middle" >1</text>
<text x="396.60" y="916.80" font-size="20.4" text-anchor="middle" >10</text>
<text x="330.60" y="937.00" font-size="20.4" text-anchor="middle" >Frequency [GHz]</text>
</svg>
</body></html>
